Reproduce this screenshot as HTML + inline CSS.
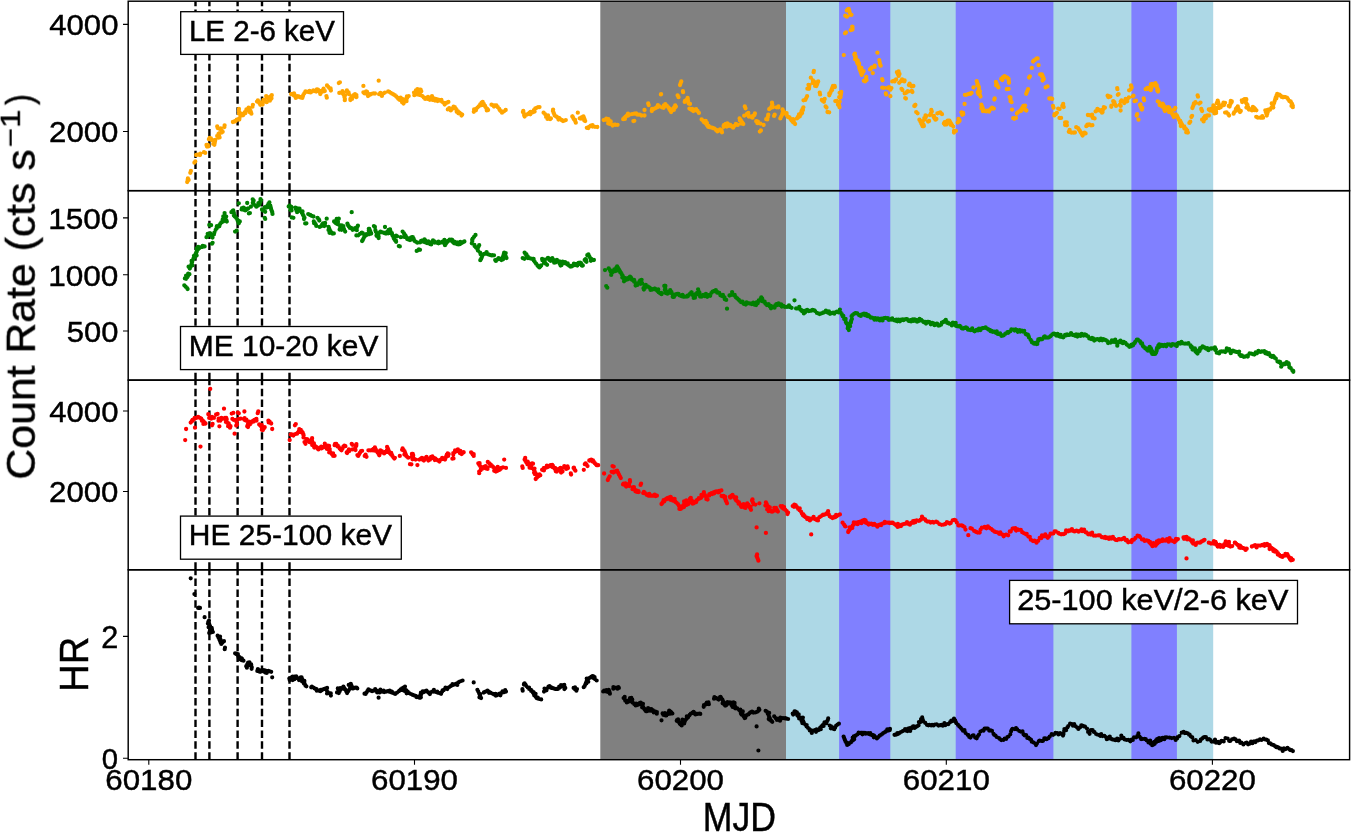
<!DOCTYPE html>
<html><head><meta charset="utf-8"><style>
html,body{margin:0;padding:0;background:#fff;overflow:hidden}
svg{display:block;font-family:"Liberation Sans",sans-serif}
</style></head><body>
<svg width="1351" height="838" viewBox="0 0 1351 838">
<rect width="1351" height="838" fill="#fff"/>
<rect x="600.3" y="1.2" width="185.7" height="758.4" fill="#808080"/>
<rect x="786.0" y="1.2" width="427.2" height="758.4" fill="#add8e6"/>
<rect x="839.1" y="1.2" width="51.2" height="758.4" fill="#8080ff"/>
<rect x="955.7" y="1.2" width="97.7" height="758.4" fill="#8080ff"/>
<rect x="1131.4" y="1.2" width="45.5" height="758.4" fill="#8080ff"/>
<path d="M195.5 190.65V1.2M195.5 380.1V190.65M195.5 569.8V380.1M195.5 759.65V569.8M209.4 190.65V1.2M209.4 380.1V190.65M209.4 569.8V380.1M209.4 759.65V569.8M237.6 190.65V1.2M237.6 380.1V190.65M237.6 569.8V380.1M237.6 759.65V569.8M262.0 190.65V1.2M262.0 380.1V190.65M262.0 569.8V380.1M262.0 759.65V569.8M289.5 190.65V1.2M289.5 380.1V190.65M289.5 569.8V380.1M289.5 759.65V569.8" stroke="#000" stroke-width="2.4" stroke-dasharray="7.45 3.4" fill="none"/>
<path fill="none" stroke="#ffa500" stroke-width="4.3" stroke-linecap="round" d="M187.2 182.1h0M187.6 180.3h0M187.9 178.4h0M190.9 171.0h0M194.4 162.7h0M197.8 154.7h0M200.0 155.1h0M205.2 152.9h0M207.0 146.6h0M207.9 144.8h0M208.9 139.2h0M210.2 139.4h0M211.6 139.6h0M212.6 140.5h0M213.5 141.4h0M215.3 139.9h0M215.0 141.5h0M214.7 143.1h0M214.4 144.8h0M217.2 135.9h0M218.5 134.0h0M219.0 135.7h0M219.6 137.4h0M217.7 128.1h0M219.3 128.7h0M220.9 129.4h0M221.8 130.6h0M222.7 131.8h0M224.6 125.3h0M232.9 122.0h0M234.3 121.5h0M235.7 121.1h0M237.5 119.6h0M239.4 118.3h0M238.8 110.9h0M239.6 112.4h0M240.4 114.0h0M241.2 115.5h0M242.2 114.6h0M243.1 113.7h0M244.9 112.2h0M246.3 110.6h0M247.7 109.0h0M248.6 107.7h0M249.6 109.3h0M250.5 110.9h0M251.0 112.3h0M251.4 113.7h0M252.9 104.8h0M257.9 100.3h0M258.7 101.8h0M259.5 103.3h0M260.3 104.8h0M261.4 104.1h0M262.5 103.5h0M263.0 101.6h0M263.4 99.8h0M264.4 100.7h0M265.3 101.6h0M266.2 96.1h0M267.2 97.0h0M268.1 97.9h0M269.0 99.3h0M269.9 100.7h0M271.8 95.2h0M271.3 97.0h0M270.9 98.9h0M291.2 94.2h0M292.6 93.8h0M294.0 93.3h0M294.6 94.9h0M295.2 96.4h0M295.8 97.9h0M296.8 97.0h0M297.7 96.1h0M299.5 97.0h0M300.9 97.5h0M302.3 97.9h0M302.8 96.5h0M303.2 95.2h0M304.3 93.3h0M305.5 91.5h0M307.2 91.8h0M308.9 92.1h0M310.6 92.4h0M312.0 91.5h0M313.4 90.5h0M314.8 91.0h0M316.2 91.5h0M317.1 90.5h0M318.0 89.6h0M319.0 91.0h0M319.9 92.4h0M321.3 91.9h0M322.7 91.5h0M323.1 90.1h0M323.6 88.7h0M326.4 96.1h0M328.2 86.8h0M329.1 87.8h0M330.1 88.7h0M338.8 83.1h0M339.3 92.9h0M340.7 92.7h0M342.1 92.4h0M343.0 93.8h0M343.9 95.2h0M344.4 97.0h0M344.9 98.9h0M346.7 91.5h0M348.6 92.4h0M350.4 98.9h0M351.3 97.5h0M352.3 96.1h0M353.7 95.2h0M355.0 94.2h0M355.5 95.6h0M356.0 97.0h0M363.4 85.9h0M364.3 93.3h0M365.2 92.4h0M366.2 91.5h0M366.8 93.0h0M367.4 94.5h0M368.0 96.1h0M368.9 95.2h0M369.9 94.2h0M371.7 93.8h0M373.6 93.3h0M378.7 80.7h0M379.1 94.2h0M380.5 94.2h0M381.9 94.2h0M383.7 93.3h0M389.3 91.8h0M390.7 92.8h0M392.1 93.7h0M393.4 94.4h0M394.8 95.2h0M396.2 96.5h0M397.6 97.9h0M398.5 98.9h0M399.5 99.8h0M400.8 99.3h0M402.2 98.9h0M402.7 100.4h0M403.1 101.9h0M403.5 103.5h0M404.3 101.9h0M405.1 100.4h0M405.9 98.9h0M407.3 97.5h0M408.7 96.1h0M414.3 95.2h0M414.9 93.6h0M415.5 92.1h0M416.1 90.5h0M417.5 91.0h0M418.9 91.5h0M188.6 180.0h0M190.3 172.8h0M195.3 161.4h0M196.2 155.0h0M200.3 153.7h0M204.0 152.2h0M208.3 146.4h0M206.5 144.9h0M209.7 137.8h0M210.9 138.3h0M210.3 138.6h0M214.1 143.1h0M213.3 143.9h0M219.5 133.1h0M218.5 137.7h0M217.2 126.4h0M220.7 128.3h0M221.7 132.5h0M224.4 127.1h0M234.4 121.7h0M235.3 121.1h0M236.8 119.6h0M239.3 119.6h0M239.0 109.0h0M238.9 113.6h0M240.5 115.7h0M243.3 115.0h0M242.9 115.3h0M245.3 113.2h0M246.4 109.4h0M249.5 108.6h0M249.5 112.1h0M252.5 106.7h0M257.0 101.6h0M259.5 102.9h0M260.6 104.4h0M262.6 104.6h0M261.4 102.5h0M264.6 99.6h0M266.7 102.2h0M268.6 97.9h0M269.5 99.1h0M269.3 99.7h0M270.9 96.2h0M271.5 98.3h0M270.1 100.3h0M291.1 94.1h0M293.9 95.4h0M295.5 96.6h0M299.8 96.8h0M301.5 96.8h0M305.2 92.1h0M309.6 90.8h0M316.9 89.3h0M317.4 90.3h0M320.3 94.0h0M321.3 90.9h0M321.0 91.2h0M324.8 91.0h0M323.5 90.0h0M326.8 97.7h0M327.0 85.4h0M330.6 88.4h0M330.9 90.5h0M339.9 82.3h0M342.5 91.2h0M342.9 92.3h0M345.1 95.3h0M344.8 100.2h0M346.9 90.4h0M348.9 94.1h0M350.4 100.0h0M352.0 98.9h0M353.2 95.5h0M352.9 96.2h0M356.4 95.1h0M356.5 97.0h0M355.5 95.7h0M363.4 92.3h0M367.1 91.9h0M365.7 93.2h0M369.2 95.0h0M370.4 94.5h0M375.0 93.5h0M380.4 93.0h0M381.9 95.9h0M384.9 92.6h0M388.2 91.5h0M397.5 97.7h0M400.1 98.1h0M400.6 97.6h0M401.0 99.4h0M402.1 102.3h0M406.5 101.2h0M406.5 100.1h0M406.9 96.5h0M414.0 92.6h0M417.8 89.6h0M418.5 91.2h0M418.9 89.7h0M415.9 90.5h0M418.2 90.1h0M420.6 89.6h0M419.9 91.1h0M419.3 92.7h0M418.7 94.2h0M420.6 95.2h0M422.4 96.1h0M423.8 97.5h0M425.2 98.9h0M426.6 97.9h0M428.0 97.0h0M428.9 98.4h0M429.8 99.8h0M431.2 98.9h0M432.6 97.9h0M434.0 98.4h0M435.4 98.9h0M437.2 99.3h0M439.1 99.8h0M440.4 100.7h0M441.8 101.6h0M443.2 102.6h0M444.6 103.5h0M446.0 103.0h0M447.4 102.6h0M449.2 108.1h0M450.6 108.6h0M452.0 109.0h0M453.4 108.1h0M454.8 107.2h0M455.7 108.6h0M456.6 110.0h0M458.0 111.4h0M459.4 112.7h0M460.8 113.7h0M462.2 114.6h0M473.8 111.8h0M475.0 110.4h0M476.1 109.0h0M477.5 107.6h0M478.8 106.3h0M480.2 104.4h0M481.6 102.6h0M483.0 103.9h0M484.4 105.3h0M485.3 106.7h0M486.2 108.1h0M487.2 109.0h0M488.1 110.0h0M492.7 105.3h0M494.6 105.3h0M496.4 105.3h0M497.8 107.2h0M499.2 109.0h0M500.6 110.9h0M502.0 112.7h0M503.8 111.4h0M505.7 110.0h0M523.3 110.9h0M523.7 113.2h0M524.2 115.5h0M525.6 115.1h0M527.0 114.6h0M528.3 113.7h0M529.7 112.7h0M531.1 112.3h0M532.5 111.8h0M533.9 110.1h0M535.3 108.5h0M536.7 107.8h0M538.1 107.2h0M543.6 112.7h0M545.0 114.1h0M546.4 115.5h0M547.6 116.7h0M548.9 118.0h0M550.1 119.2h0M552.9 110.9h0M553.5 112.4h0M554.1 114.0h0M554.7 115.5h0M556.1 116.4h0M557.5 117.4h0M558.9 118.3h0M560.3 119.2h0M561.7 120.1h0M563.0 121.1h0M564.4 120.6h0M565.8 120.1h0M572.3 116.4h0M573.2 118.0h0M574.1 119.5h0M575.1 121.1h0M577.8 112.7h0M579.7 118.3h0M581.5 117.4h0M583.4 116.4h0M584.0 118.0h0M584.6 119.5h0M585.2 121.1h0M588.0 127.5h0M589.4 126.6h0M590.8 125.7h0M592.6 126.6h0M595.0 126.8h0M597.3 127.0h0M603.7 120.1h0M606.1 119.7h0M608.4 119.2h0M608.8 121.5h0M609.3 123.8h0M611.6 124.3h0M613.9 124.8h0M615.8 124.8h0M617.6 124.8h0M623.2 119.2h0M624.4 118.0h0M625.6 116.7h0M626.9 115.5h0M628.3 115.1h0M629.7 114.6h0M632.0 114.1h0M634.3 113.7h0M633.4 121.1h0M637.1 114.6h0M638.4 114.6h0M639.8 114.6h0M644.5 110.0h0M644.5 115.5h0M648.2 103.5h0M651.9 110.0h0M653.7 109.0h0M655.6 108.1h0M657.4 107.2h0M659.3 106.3h0M661.1 94.2h0M663.9 105.3h0M416.9 91.5h0M417.4 89.1h0M421.3 91.3h0M420.1 90.1h0M417.0 94.4h0M419.1 94.8h0M428.3 98.0h0M427.6 98.9h0M432.6 99.9h0M432.0 96.2h0M433.7 99.6h0M435.0 100.5h0M436.2 100.4h0M437.6 101.1h0M441.4 99.9h0M440.9 100.9h0M444.7 104.6h0M448.4 101.9h0M447.8 109.4h0M450.8 110.4h0M453.6 106.7h0M456.7 111.0h0M456.7 111.8h0M458.4 113.3h0M461.5 115.5h0M475.2 110.6h0M474.1 109.5h0M475.9 110.3h0M482.7 101.9h0M481.4 105.2h0M483.8 104.0h0M484.9 105.6h0M486.8 110.4h0M491.5 104.7h0M494.0 106.5h0M499.7 109.9h0M522.9 112.0h0M524.6 116.6h0M530.3 114.3h0M532.8 112.3h0M530.5 111.9h0M534.6 111.6h0M539.5 107.1h0M546.1 116.9h0M548.0 115.3h0M547.5 118.9h0M550.9 118.4h0M553.1 109.6h0M556.4 116.7h0M558.5 119.6h0M559.3 118.2h0M561.5 120.0h0M572.5 116.4h0M575.1 120.0h0M575.8 122.7h0M581.0 118.7h0M583.6 116.9h0M584.3 120.5h0M584.3 119.7h0M586.8 127.8h0M588.4 128.0h0M592.5 125.1h0M606.3 118.7h0M610.7 121.5h0M608.2 123.4h0M612.6 125.5h0M614.9 124.6h0M624.9 118.9h0M628.0 115.7h0M627.2 115.7h0M628.0 113.7h0M636.2 113.6h0M634.3 120.8h0M636.1 113.3h0M641.4 115.5h0M648.7 105.1h0M651.8 111.0h0M652.1 109.0h0M656.9 107.1h0M657.9 105.2h0M665.3 104.2h0M660.9 94.4h0M661.9 107.3h0M663.7 105.9h0M665.6 104.6h0M666.9 105.9h0M668.3 107.3h0M669.3 108.9h0M670.2 110.4h0M671.1 112.0h0M672.0 110.6h0M673.0 109.2h0M674.1 107.3h0M675.2 105.5h0M677.6 95.3h0M678.5 97.2h0M680.0 85.1h0M680.6 83.3h0M681.3 81.4h0M683.1 92.2h0M685.0 100.9h0M686.4 99.9h0M687.8 99.0h0M688.2 101.3h0M688.7 103.6h0M690.5 109.2h0M691.9 110.1h0M693.3 111.0h0M694.7 110.1h0M696.1 109.2h0M697.5 111.0h0M698.9 112.9h0M701.6 119.4h0M703.0 120.7h0M704.4 122.1h0M705.3 123.1h0M706.3 124.0h0M707.2 125.4h0M708.1 126.8h0M709.5 127.0h0M710.9 127.3h0M712.7 128.0h0M714.6 128.6h0M716.0 130.0h0M717.4 131.4h0M718.8 130.5h0M720.1 129.5h0M721.1 130.9h0M722.0 132.3h0M723.8 126.8h0M724.8 125.4h0M725.7 124.0h0M727.1 124.9h0M728.5 125.8h0M729.9 125.8h0M731.2 125.8h0M732.2 126.8h0M733.1 127.7h0M734.5 125.8h0M735.9 124.0h0M737.7 124.9h0M739.6 118.4h0M740.5 119.8h0M741.4 121.2h0M742.3 122.6h0M743.3 124.0h0M744.2 115.7h0M745.5 108.3h0M747.0 113.8h0M747.9 115.2h0M748.8 116.6h0M750.2 116.6h0M751.6 116.6h0M753.0 115.8h0M754.4 115.1h0M756.2 121.2h0M757.6 122.1h0M759.0 123.1h0M760.9 130.5h0M763.6 124.9h0M767.3 119.4h0M767.8 117.0h0M768.3 114.7h0M769.2 109.2h0M772.0 102.7h0M772.4 105.0h0M772.9 107.3h0M774.7 114.7h0M776.6 107.3h0M778.4 107.3h0M780.3 118.4h0M781.2 116.6h0M782.1 114.7h0M782.6 112.9h0M783.1 111.0h0M784.4 112.4h0M785.8 113.8h0M786.8 115.2h0M787.7 116.6h0M789.5 117.5h0M790.5 118.9h0M791.4 120.3h0M792.3 121.2h0M793.2 122.1h0M794.2 123.1h0M795.1 124.0h0M796.9 118.4h0M797.9 117.0h0M798.8 115.7h0M800.6 114.7h0M801.1 112.9h0M801.6 111.0h0M802.5 109.2h0M803.4 107.3h0M805.3 99.9h0M806.2 98.1h0M807.1 96.2h0M809.0 88.8h0M809.2 87.0h0M809.5 85.1h0M810.8 77.7h0M813.6 72.2h0M813.6 81.4h0M814.5 83.0h0M815.4 84.5h0M816.4 86.0h0M817.0 84.5h0M817.6 83.0h0M818.2 81.4h0M820.1 94.4h0M822.8 100.9h0M823.8 99.9h0M824.7 99.0h0M825.6 106.4h0M827.5 112.0h0M829.3 95.3h0M829.9 93.8h0M830.6 92.2h0M831.2 90.7h0M831.8 89.1h0M832.4 87.6h0M833.0 86.0h0M834.9 87.0h0M836.7 100.9h0M837.6 101.8h0M838.6 102.7h0M839.0 105.0h0M839.5 107.3h0M840.4 97.2h0M840.7 95.4h0M841.0 93.7h0M841.3 92.0h0M843.8 55.1h0M845.0 33.3h0M846.0 32.4h0M846.9 16.7h0M847.8 9.3h0M849.1 10.2h0M849.7 12.5h0M850.2 14.8h0M852.5 26.8h0M852.5 28.2h0M852.5 29.6h0M854.3 54.6h0M854.9 56.1h0M855.5 57.7h0M856.2 59.2h0M856.6 60.8h0M857.1 62.3h0M857.6 63.8h0M858.9 64.8h0M859.2 66.5h0M859.5 68.2h0M859.9 69.9h0M860.5 71.6h0M861.1 73.3h0M861.7 74.9h0M862.6 73.1h0M863.6 71.2h0M865.0 81.4h0M865.5 79.9h0M865.9 78.3h0M866.3 76.8h0M870.0 69.4h0M871.0 68.5h0M871.9 67.5h0M872.8 73.1h0M874.7 65.7h0M877.4 52.7h0M879.3 60.1h0M879.7 62.5h0M880.2 64.8h0M882.1 79.2h0M883.9 87.9h0M885.8 93.4h0M887.6 87.9h0M890.4 96.2h0M890.4 89.7h0M892.2 81.4h0M893.6 81.0h0M895.0 80.5h0M896.9 72.2h0M897.8 74.0h0M898.7 75.9h0M900.6 81.4h0M902.4 80.5h0M901.5 88.8h0M904.3 81.4h0M905.2 98.1h0M908.0 91.6h0M908.9 85.1h0M663.6 107.8h0M666.8 105.8h0M669.7 108.6h0M670.9 109.5h0M673.8 109.9h0M675.1 107.5h0M675.9 106.6h0M682.9 91.2h0M684.7 101.9h0M687.6 97.9h0M690.0 103.9h0M689.4 108.6h0M692.1 108.9h0M693.3 109.5h0M696.0 110.3h0M705.7 120.9h0M704.1 122.3h0M706.9 122.9h0M708.6 126.0h0M717.8 130.4h0M720.3 130.6h0M721.6 130.4h0M724.1 125.0h0M723.6 126.0h0M727.3 123.4h0M726.8 126.5h0M727.9 124.0h0M730.2 124.9h0M731.7 126.5h0M740.9 120.8h0M739.9 120.4h0M741.1 123.6h0M744.8 106.4h0M748.3 112.8h0M749.2 116.1h0M752.5 117.7h0M754.1 115.3h0M754.9 113.4h0M757.9 121.7h0M757.4 123.2h0M760.4 123.6h0M759.8 131.6h0M766.2 119.2h0M770.2 108.3h0M771.6 106.4h0M771.9 105.8h0M774.1 115.9h0M778.4 106.3h0M782.5 109.5h0M786.6 113.1h0M786.5 114.2h0M788.0 117.2h0M793.1 119.2h0M792.9 122.0h0M794.0 122.8h0M793.7 121.5h0M798.0 117.5h0M799.0 114.3h0M799.7 116.4h0M802.1 113.1h0M803.0 110.0h0M803.5 100.3h0M807.4 88.7h0M808.5 84.8h0M813.9 70.8h0M812.9 80.3h0M812.7 82.9h0M815.1 85.9h0M817.3 83.4h0M815.9 82.4h0M819.7 92.6h0M823.9 101.8h0M821.8 100.0h0M823.7 100.7h0M826.5 107.5h0M829.2 112.3h0M829.3 93.4h0M832.1 90.0h0M834.6 85.8h0M835.3 101.1h0M838.3 103.5h0M839.7 101.6h0M838.0 104.7h0M839.2 106.3h0M839.2 97.2h0M840.5 97.3h0M839.6 92.8h0M845.3 33.2h0M845.3 15.7h0M846.8 10.4h0M848.7 8.9h0M851.5 14.8h0M852.2 26.6h0M850.7 30.2h0M854.9 53.6h0M854.6 54.3h0M855.7 56.6h0M855.1 59.2h0M857.7 60.5h0M859.1 63.3h0M861.4 67.8h0M859.2 68.1h0M861.4 72.2h0M862.7 72.8h0M863.8 80.8h0M866.6 80.0h0M870.9 69.1h0M874.6 66.9h0M880.7 65.7h0M882.5 80.3h0M882.2 87.7h0M886.1 94.6h0M889.0 87.2h0M891.4 88.1h0M894.6 81.4h0M896.1 79.4h0M898.6 71.4h0M899.5 74.0h0M899.2 82.8h0M902.1 79.3h0M902.4 90.0h0M904.6 80.4h0M905.9 92.9h0M906.9 92.0h0M907.8 91.1h0M909.6 83.7h0M910.6 85.1h0M911.5 86.4h0M912.4 92.0h0M905.9 98.5h0M914.3 105.9h0M915.2 104.9h0M917.6 113.3h0M919.4 119.7h0M920.4 121.6h0M921.3 123.4h0M921.9 124.8h0M922.6 126.2h0M924.4 119.7h0M925.4 117.9h0M926.3 116.0h0M928.1 121.6h0M930.0 115.1h0M930.9 113.3h0M931.8 111.4h0M933.7 117.0h0M934.6 118.4h0M935.5 119.7h0M937.4 113.3h0M938.8 112.8h0M940.2 112.3h0M941.1 113.3h0M942.0 114.2h0M943.9 123.4h0M945.2 123.9h0M946.6 124.4h0M948.0 122.5h0M949.4 120.7h0M950.3 122.2h0M951.3 123.8h0M952.2 125.3h0M954.0 130.9h0M955.9 130.9h0M957.7 122.5h0M958.7 121.6h0M959.6 120.7h0M961.4 112.3h0M962.4 113.3h0M963.3 114.2h0M964.6 104.0h0M966.1 94.8h0M967.5 94.3h0M968.8 93.8h0M970.2 93.4h0M971.6 92.9h0M973.5 87.4h0M977.2 82.7h0M977.8 84.3h0M978.4 85.8h0M979.0 87.4h0M979.0 89.7h0M979.0 92.0h0M979.5 93.5h0M980.0 95.1h0M980.5 96.6h0M981.8 105.9h0M982.4 107.4h0M983.0 109.0h0M983.6 110.5h0M985.0 111.0h0M986.4 111.4h0M987.8 111.0h0M989.2 110.5h0M990.6 109.1h0M992.0 107.7h0M993.8 108.6h0M994.7 98.5h0M996.6 83.7h0M997.5 85.5h0M998.4 87.4h0M1001.2 79.0h0M1002.2 78.1h0M1003.1 77.2h0M1004.9 76.3h0M1006.8 77.6h0M1008.6 79.0h0M1008.8 80.9h0M1009.0 82.7h0M1006.8 89.2h0M1010.5 97.5h0M1010.5 99.4h0M1010.5 101.2h0M1012.0 109.6h0M1014.2 118.8h0M1016.0 117.9h0M1017.9 112.3h0M1019.3 111.4h0M1020.7 110.5h0M1021.6 109.0h0M1022.5 107.4h0M1023.4 105.9h0M1024.4 107.9h0M1025.3 109.9h0M1026.2 93.8h0M1026.8 92.3h0M1027.4 90.8h0M1028.1 89.2h0M1029.9 76.3h0M1031.8 67.9h0M1033.1 61.5h0M1034.7 60.1h0M1036.4 58.7h0M1038.6 65.2h0M1040.1 74.4h0M1041.9 74.4h0M1042.6 76.0h0M1043.2 77.5h0M1043.8 79.0h0M1045.6 87.4h0M1047.5 86.4h0M1049.3 98.5h0M1051.2 98.5h0M1053.0 105.9h0M1054.5 114.2h0M1055.8 114.2h0M1058.2 108.6h0M1059.5 117.9h0M1062.3 105.9h0M1063.2 104.0h0M1065.1 122.5h0M1066.0 123.9h0M1066.9 125.3h0M1068.8 131.8h0M1070.2 132.2h0M1071.5 132.7h0M1073.4 132.7h0M1076.2 127.2h0M1078.0 128.1h0M1078.9 129.5h0M1079.9 130.9h0M1080.8 132.4h0M1081.7 133.9h0M1082.6 135.5h0M1083.6 134.1h0M1084.5 132.7h0M1086.3 126.2h0M1087.7 125.3h0M1089.1 124.4h0M1091.0 125.3h0M1089.1 115.1h0M1090.5 115.1h0M1091.9 115.1h0M1092.4 116.5h0M1092.8 117.9h0M1095.6 111.4h0M1097.0 110.5h0M1098.4 109.6h0M1099.8 110.5h0M1101.2 111.4h0M1102.1 110.5h0M1103.0 109.6h0M1103.9 108.6h0M1104.9 107.7h0M1107.6 95.7h0M1109.0 96.2h0M1110.4 96.6h0M1111.3 106.8h0M1113.2 101.2h0M1114.1 102.8h0M1115.0 104.3h0M1116.0 105.9h0M1117.4 89.2h0M1117.8 94.8h0M1119.7 104.9h0M1120.6 110.5h0M1121.5 100.3h0M1122.9 101.7h0M1124.3 103.1h0M1125.2 101.7h0M1126.1 100.3h0M1127.5 98.9h0M1128.9 97.5h0M1130.8 89.2h0M1131.7 87.4h0M1133.5 95.7h0M1134.5 101.2h0M1137.2 114.2h0M1138.5 119.7h0M1140.0 104.9h0M1140.6 106.5h0M1141.2 108.0h0M1141.9 109.6h0M1143.7 98.5h0M1145.6 89.2h0M1147.4 89.2h0M1149.3 89.2h0M1150.2 88.3h0M1151.1 87.4h0M1152.0 86.0h0M1153.0 84.6h0M904.7 93.4h0M908.5 91.3h0M913.4 86.0h0M911.8 90.9h0M915.4 105.0h0M914.7 106.0h0M916.2 112.1h0M921.4 121.5h0M922.5 121.9h0M923.6 124.8h0M923.9 126.1h0M924.3 118.1h0M925.5 115.4h0M929.1 121.0h0M931.3 109.9h0M933.9 115.9h0M936.4 118.9h0M936.3 118.9h0M937.5 113.3h0M944.7 122.1h0M944.9 124.7h0M947.0 121.4h0M947.7 120.6h0M950.9 124.9h0M953.2 126.6h0M954.0 132.5h0M958.9 121.5h0M959.3 119.8h0M958.5 119.0h0M962.4 113.0h0M962.2 114.8h0M963.1 112.8h0M964.9 94.8h0M970.1 93.4h0M970.3 93.9h0M976.7 81.1h0M977.3 85.4h0M979.9 91.4h0M977.7 92.2h0M978.4 94.0h0M981.3 104.7h0M981.4 108.2h0M982.8 111.1h0M983.1 110.6h0M987.0 110.6h0M989.1 111.5h0M992.1 108.6h0M994.3 99.5h0M995.9 82.0h0M996.0 85.3h0M1002.3 80.1h0M1002.8 79.0h0M1004.5 76.1h0M1007.3 77.6h0M1009.0 82.8h0M1008.6 88.9h0M1009.6 97.1h0M1011.6 102.2h0M1013.2 118.2h0M1016.9 113.5h0M1021.1 110.8h0M1023.7 107.8h0M1025.1 105.6h0M1026.4 110.5h0M1029.1 77.5h0M1034.0 60.3h0M1037.6 58.4h0M1041.7 75.9h0M1042.6 80.5h0M1052.2 98.9h0M1053.5 107.7h0M1054.3 115.4h0M1056.9 112.8h0M1059.6 109.1h0M1061.1 117.9h0M1063.7 107.0h0M1066.6 122.6h0M1066.8 122.3h0M1065.1 125.0h0M1069.6 130.0h0M1074.9 132.5h0M1082.6 134.5h0M1085.6 133.4h0M1087.4 124.6h0M1092.4 125.2h0M1087.9 115.0h0M1091.8 115.0h0M1090.8 115.6h0M1092.1 114.6h0M1094.6 118.4h0M1097.0 110.3h0M1097.4 109.0h0M1101.5 110.9h0M1102.0 112.7h0M1102.6 112.0h0M1101.2 110.2h0M1103.8 107.2h0M1108.3 97.1h0M1108.7 97.1h0M1111.4 105.7h0M1114.4 102.1h0M1117.2 88.1h0M1118.6 94.1h0M1120.7 105.9h0M1120.7 101.6h0M1127.2 101.3h0M1125.6 99.0h0M1129.1 90.3h0M1131.0 85.5h0M1132.8 96.4h0M1136.0 100.7h0M1136.7 115.6h0M1140.6 104.5h0M1142.3 108.0h0M1144.1 100.3h0M1147.3 87.9h0M1150.1 87.8h0M1150.7 86.6h0M1150.1 87.2h0M1151.3 85.3h0M1154.7 84.8h0M1150.7 90.2h0M1151.5 87.9h0M1152.2 85.7h0M1153.3 84.8h0M1154.5 83.9h0M1155.6 85.6h0M1156.7 87.2h0M1157.4 88.5h0M1158.2 89.9h0M1158.9 102.1h0M1160.0 103.6h0M1161.2 105.0h0M1162.6 103.6h0M1163.4 105.0h0M1164.1 106.5h0M1164.5 108.8h0M1164.9 111.0h0M1166.0 109.1h0M1167.1 107.3h0M1169.3 108.0h0M1170.1 109.9h0M1170.8 111.7h0M1171.6 112.9h0M1172.3 114.0h0M1173.1 115.5h0M1173.8 117.0h0M1175.3 108.0h0M1176.8 115.5h0M1177.5 117.0h0M1178.3 118.4h0M1179.0 119.9h0M1180.1 121.4h0M1181.2 122.9h0M1182.0 124.4h0M1182.7 125.9h0M1183.8 127.0h0M1185.0 128.1h0M1186.1 129.2h0M1187.2 130.3h0M1187.9 132.6h0M1189.4 122.9h0M1191.4 117.0h0M1192.4 108.0h0M1193.1 106.2h0M1193.9 104.3h0M1194.6 103.2h0M1195.4 102.1h0M1197.6 95.4h0M1199.1 103.6h0M1201.3 108.8h0M1202.1 111.0h0M1203.6 121.4h0M1204.1 119.7h0M1204.6 117.9h0M1205.0 116.2h0M1207.3 115.5h0M1208.8 109.5h0M1211.0 108.8h0M1211.7 109.9h0M1212.5 111.0h0M1213.2 108.8h0M1214.0 106.5h0M1215.5 113.2h0M1215.7 111.5h0M1216.0 109.8h0M1216.2 108.0h0M1217.7 100.6h0M1218.2 102.3h0M1218.7 104.1h0M1219.2 105.8h0M1220.7 107.3h0M1221.8 105.8h0M1222.9 104.3h0M1224.0 103.6h0M1225.1 102.8h0M1226.6 112.5h0M1228.1 114.0h0M1229.6 106.5h0M1230.3 104.3h0M1231.1 102.8h0M1231.8 101.3h0M1234.1 112.5h0M1235.5 111.0h0M1236.3 109.5h0M1237.0 108.0h0M1237.8 106.5h0M1238.5 108.8h0M1239.3 111.0h0M1240.8 111.0h0M1242.2 100.6h0M1243.4 99.8h0M1244.5 99.1h0M1245.2 101.0h0M1246.0 102.8h0M1246.7 103.9h0M1247.5 105.0h0M1248.2 107.3h0M1248.9 109.5h0M1251.2 109.5h0M1252.7 108.8h0M1254.1 108.0h0M1255.3 109.1h0M1256.4 110.3h0M1257.9 117.7h0M1260.1 117.7h0M1261.6 117.7h0M1263.1 117.7h0M1265.3 110.3h0M1265.8 112.0h0M1266.3 113.7h0M1266.8 115.5h0M1267.3 113.7h0M1267.8 112.0h0M1268.3 110.3h0M1269.4 109.5h0M1270.5 108.8h0M1271.6 107.3h0M1272.7 105.8h0M1273.5 104.3h0M1274.2 102.8h0M1274.7 101.1h0M1275.2 99.3h0M1275.7 97.6h0M1276.5 95.7h0M1277.2 93.9h0M1279.4 94.6h0M1280.6 95.7h0M1281.7 96.9h0M1283.9 96.9h0M1285.4 97.2h0M1286.9 97.6h0M1288.0 99.1h0M1289.1 100.6h0M1290.6 101.3h0M1291.3 102.8h0M1292.1 104.3h0M1292.8 105.8h0M1150.8 84.4h0M1152.0 83.8h0M1155.4 83.1h0M1156.8 85.3h0M1157.3 90.4h0M1158.0 91.6h0M1157.7 101.3h0M1159.6 105.0h0M1162.5 106.2h0M1162.2 106.7h0M1164.4 110.1h0M1167.1 109.5h0M1168.3 107.1h0M1171.5 110.4h0M1169.0 112.0h0M1174.3 109.6h0M1175.8 114.5h0M1176.9 115.6h0M1180.3 121.0h0M1180.0 122.8h0M1180.8 126.1h0M1184.7 128.6h0M1184.2 126.5h0M1184.4 128.6h0M1187.2 131.4h0M1186.2 132.3h0M1190.3 121.7h0M1192.1 115.8h0M1194.9 103.5h0M1193.9 103.4h0M1198.0 96.7h0M1200.5 102.6h0M1201.4 109.6h0M1202.1 119.7h0M1205.9 118.3h0M1203.8 117.8h0M1208.9 115.5h0M1210.0 110.5h0M1213.0 109.9h0M1213.1 107.6h0M1213.4 105.5h0M1214.4 113.4h0M1216.1 112.9h0M1216.1 111.7h0M1216.8 103.0h0M1220.2 106.8h0M1219.1 108.0h0M1223.5 102.7h0M1224.0 105.0h0M1225.1 112.6h0M1229.1 115.5h0M1228.7 105.9h0M1230.6 102.5h0M1231.7 102.0h0M1230.8 100.8h0M1233.6 113.7h0M1236.7 107.9h0M1235.9 109.0h0M1237.2 107.9h0M1240.0 112.1h0M1239.5 110.5h0M1242.2 102.0h0M1241.8 100.3h0M1246.3 99.2h0M1246.3 99.8h0M1246.4 107.6h0M1250.5 109.3h0M1252.0 110.4h0M1252.9 106.8h0M1254.5 110.2h0M1256.2 116.8h0M1262.3 116.2h0M1267.6 110.0h0M1270.0 109.7h0M1272.6 106.5h0M1273.3 107.6h0M1271.7 103.4h0M1276.3 98.6h0M1276.4 97.7h0M1278.4 95.0h0M1281.7 96.7h0M1283.0 97.3h0M1285.3 97.2h0M1289.3 101.1h0M1292.1 103.9h0M1291.5 105.9h0M1292.8 107.2h0"/>
<path fill="none" stroke="#008000" stroke-width="4.3" stroke-linecap="round" d="M184.3 285.3h0M185.6 286.7h0M187.0 288.1h0M186.1 278.8h0M187.0 277.4h0M188.0 276.0h0M189.4 274.2h0M189.8 268.6h0M190.5 266.8h0M191.3 264.9h0M191.7 263.4h0M192.1 261.9h0M192.6 260.3h0M193.5 258.5h0M194.4 256.6h0M195.1 255.2h0M195.7 253.8h0M196.3 252.5h0M196.8 251.1h0M198.1 249.2h0M199.1 248.3h0M200.0 247.4h0M202.3 246.9h0M204.6 246.4h0M206.5 237.2h0M207.4 236.3h0M208.3 235.3h0M209.2 234.4h0M210.2 233.5h0M211.1 234.9h0M212.0 236.3h0M212.9 235.3h0M213.9 234.4h0M211.1 225.2h0M212.0 243.7h0M215.7 229.8h0M216.6 228.4h0M217.6 227.0h0M218.5 226.1h0M219.4 225.2h0M220.3 223.8h0M221.3 222.4h0M223.1 221.5h0M224.0 219.6h0M225.0 217.8h0M224.8 215.4h0M224.6 213.1h0M226.8 221.5h0M231.4 212.2h0M232.4 211.3h0M233.3 210.4h0M233.8 212.7h0M234.2 215.0h0M235.1 216.4h0M236.1 217.8h0M237.0 219.1h0M237.9 220.5h0M238.4 221.9h0M238.8 223.3h0M239.8 221.5h0M235.1 231.6h0M238.8 203.3h0M241.6 209.4h0M242.5 208.5h0M243.5 207.6h0M244.4 209.0h0M245.3 210.4h0M246.7 209.4h0M248.1 208.5h0M247.2 203.0h0M249.9 213.1h0M250.9 206.7h0M252.7 199.3h0M253.2 201.6h0M253.6 203.9h0M255.0 205.3h0M256.4 206.7h0M257.8 205.7h0M259.2 204.8h0M259.8 203.3h0M260.4 201.7h0M261.0 200.2h0M262.0 209.4h0M263.8 210.4h0M264.7 217.8h0M266.6 207.6h0M267.5 205.7h0M268.4 203.9h0M269.4 204.8h0M270.3 205.7h0M270.8 207.6h0M271.2 209.4h0M271.7 210.8h0M272.2 212.2h0M289.7 205.7h0M290.3 207.3h0M291.0 208.8h0M291.6 210.4h0M293.4 217.8h0M295.3 207.6h0M295.9 209.1h0M296.5 210.7h0M297.1 212.2h0M298.1 210.8h0M299.0 209.4h0M299.9 210.4h0M300.8 211.3h0M301.8 212.7h0M302.7 214.1h0M303.6 215.9h0M304.5 217.8h0M306.4 223.3h0M308.2 214.1h0M310.1 215.0h0M311.9 215.9h0M313.8 221.5h0M314.7 222.8h0M315.6 224.2h0M317.5 217.8h0M318.4 219.1h0M319.3 220.5h0M321.2 226.1h0M322.1 224.7h0M323.0 223.3h0M324.0 224.2h0M324.9 225.2h0M326.7 218.7h0M328.6 227.0h0M329.2 228.6h0M329.8 230.1h0M330.4 231.6h0M331.4 232.6h0M332.3 233.5h0M334.1 221.5h0M335.1 222.4h0M336.0 223.3h0M336.9 221.8h0M337.8 220.2h0M338.8 218.7h0M339.7 225.2h0M340.3 226.7h0M340.9 228.2h0M341.5 229.8h0M342.5 227.9h0M343.4 226.1h0M345.2 231.6h0M348.0 225.2h0M348.9 226.5h0M349.9 227.9h0M351.7 212.2h0M352.6 229.8h0M354.0 229.3h0M355.4 228.9h0M356.3 227.9h0M357.3 227.0h0M358.2 235.3h0M360.0 233.9h0M361.9 232.6h0M362.8 240.0h0M363.7 238.1h0M364.7 236.3h0M366.1 235.3h0M367.5 234.4h0M369.3 228.9h0M369.9 230.4h0M370.5 231.9h0M371.2 233.5h0M373.9 226.1h0M375.8 231.6h0M376.7 233.0h0M377.6 234.4h0M378.1 236.3h0M378.6 238.1h0M380.4 231.6h0M381.8 232.1h0M383.2 232.6h0M385.0 227.0h0M386.0 233.5h0M387.3 231.6h0M388.7 229.8h0M389.7 230.7h0M390.6 231.6h0M391.5 233.5h0M392.4 235.3h0M393.4 237.2h0M394.3 239.0h0M395.2 240.4h0M396.1 241.8h0M397.1 236.3h0M399.8 246.4h0M400.8 237.2h0M402.6 231.6h0M404.0 233.5h0M405.4 235.3h0M406.3 237.2h0M407.2 239.0h0M408.6 239.5h0M410.0 240.0h0M411.4 238.6h0M412.8 237.2h0M413.7 239.0h0M414.6 240.9h0M416.0 241.8h0M417.4 242.7h0M418.3 250.1h0M421.1 240.9h0M422.5 241.4h0M423.9 241.8h0M187.6 289.1h0M184.9 278.4h0M186.1 275.6h0M188.2 273.6h0M189.9 267.4h0M188.6 266.7h0M192.3 265.4h0M191.6 260.9h0M194.5 257.7h0M194.0 255.8h0M196.6 255.5h0M196.8 251.6h0M196.7 248.5h0M198.1 246.9h0M202.7 245.9h0M207.7 233.8h0M208.8 234.9h0M212.5 237.6h0M214.4 232.6h0M209.3 225.0h0M212.6 242.8h0M216.7 227.1h0M216.9 226.2h0M219.3 226.3h0M222.6 221.7h0M224.4 220.7h0M222.7 219.4h0M226.2 216.6h0M223.3 216.3h0M226.4 220.4h0M232.7 211.0h0M233.9 215.6h0M234.8 216.6h0M237.8 220.9h0M236.7 230.7h0M242.0 208.2h0M243.3 209.7h0M245.5 208.9h0M248.9 213.4h0M253.6 200.5h0M252.8 202.8h0M257.7 205.8h0M258.4 203.1h0M259.6 202.3h0M260.5 199.2h0M262.8 210.4h0M265.2 211.8h0M265.2 218.9h0M264.9 207.2h0M266.5 207.3h0M269.4 202.4h0M269.6 207.3h0M269.1 207.0h0M272.2 211.9h0M272.5 213.9h0M288.7 206.4h0M289.2 206.8h0M291.3 207.0h0M290.3 209.8h0M291.7 217.4h0M296.3 208.6h0M297.6 208.3h0M297.0 211.2h0M299.5 208.6h0M299.6 209.7h0M302.5 211.4h0M302.9 214.8h0M304.0 219.0h0M305.2 223.4h0M313.4 216.5h0M314.1 223.2h0M316.3 225.9h0M318.8 219.3h0M319.7 226.9h0M325.1 223.0h0M324.2 226.0h0M328.5 230.1h0M330.6 231.5h0M329.5 232.8h0M333.8 233.4h0M335.6 221.8h0M337.3 224.0h0M338.0 221.9h0M336.7 219.0h0M341.8 225.4h0M339.6 229.6h0M339.8 229.1h0M343.9 229.0h0M344.3 229.9h0M347.4 223.6h0M351.1 227.8h0M355.7 229.4h0M356.8 230.2h0M355.0 228.2h0M357.9 225.7h0M356.4 235.4h0M362.7 233.2h0M362.1 241.0h0M364.3 235.2h0M366.3 234.2h0M368.8 230.7h0M368.8 228.8h0M369.5 234.1h0M374.9 226.9h0M375.4 230.2h0M376.7 235.9h0M376.5 235.4h0M378.6 236.4h0M379.8 232.6h0M384.2 233.0h0M388.2 233.3h0M389.9 229.5h0M390.1 229.3h0M391.9 233.2h0M393.9 238.6h0M395.9 240.6h0M396.1 235.7h0M398.8 246.1h0M404.2 236.9h0M409.0 238.5h0M411.1 239.5h0M411.9 237.1h0M411.3 237.3h0M416.7 250.9h0M425.6 241.6h0M420.0 242.4h0M420.0 249.8h0M422.8 240.5h0M424.2 241.5h0M425.6 242.4h0M426.9 241.9h0M428.3 241.5h0M429.3 242.8h0M430.2 244.2h0M431.6 242.4h0M433.0 240.5h0M434.3 241.5h0M435.7 242.4h0M437.1 242.8h0M438.5 243.3h0M439.9 242.8h0M441.3 242.4h0M443.1 241.5h0M444.1 243.3h0M445.0 245.2h0M445.9 243.8h0M446.8 242.4h0M448.2 241.0h0M449.6 239.6h0M451.0 240.5h0M452.4 241.5h0M453.3 242.4h0M454.2 243.3h0M455.6 242.8h0M457.0 242.4h0M458.4 243.3h0M459.8 244.2h0M461.2 243.3h0M462.6 242.4h0M464.4 241.5h0M471.8 243.3h0M472.3 241.0h0M472.7 238.7h0M474.1 236.8h0M475.5 235.0h0M474.6 246.1h0M476.0 247.5h0M477.4 248.9h0M478.3 247.0h0M479.2 245.2h0M480.1 252.6h0M481.1 259.0h0M481.7 257.5h0M482.3 256.0h0M482.9 254.4h0M484.3 253.9h0M485.7 253.5h0M487.1 253.9h0M488.5 254.4h0M489.9 254.9h0M491.2 255.3h0M492.6 255.3h0M494.0 255.3h0M495.9 260.9h0M497.3 259.5h0M498.6 258.1h0M500.0 259.0h0M501.4 260.0h0M502.3 258.1h0M503.3 256.3h0M503.7 254.4h0M504.2 252.6h0M504.8 254.1h0M505.4 255.6h0M506.0 257.2h0M522.7 258.1h0M524.6 252.6h0M525.5 253.9h0M526.4 255.3h0M527.8 256.7h0M529.2 258.1h0M531.0 258.6h0M532.9 259.0h0M533.8 260.4h0M534.7 261.8h0M536.1 263.7h0M537.5 265.5h0M538.4 266.4h0M539.4 267.4h0M540.3 266.4h0M541.2 265.5h0M542.1 259.0h0M543.1 260.0h0M544.0 260.9h0M544.9 262.3h0M545.8 263.7h0M547.7 258.1h0M548.6 259.0h0M549.5 260.0h0M550.9 259.0h0M552.3 258.1h0M552.9 259.7h0M553.5 261.2h0M554.2 262.7h0M555.5 261.4h0M556.9 260.0h0M557.9 260.9h0M558.8 261.8h0M559.7 263.7h0M560.6 265.5h0M562.0 264.1h0M563.4 262.7h0M564.8 263.2h0M566.2 263.7h0M567.6 264.6h0M569.0 265.5h0M570.4 266.0h0M571.7 266.4h0M573.1 265.5h0M574.5 264.6h0M575.9 265.1h0M577.3 265.5h0M578.7 264.1h0M580.1 262.7h0M581.5 264.1h0M582.8 265.5h0M584.7 260.0h0M585.6 260.9h0M586.5 261.8h0M588.4 254.4h0M589.3 256.3h0M590.2 258.1h0M591.2 259.0h0M592.1 260.0h0M593.9 260.0h0M605.0 270.1h0M607.3 287.7h0M608.7 268.3h0M609.7 269.8h0M610.6 271.4h0M611.5 272.9h0M612.9 272.0h0M614.3 271.1h0M615.2 269.5h0M616.2 268.0h0M617.1 266.4h0M618.0 268.0h0M618.9 269.5h0M619.9 271.1h0M620.8 272.6h0M621.7 274.2h0M622.6 275.7h0M623.2 277.2h0M623.9 278.8h0M624.5 280.3h0M625.9 279.9h0M627.3 279.4h0M628.6 278.0h0M630.0 276.6h0M631.4 278.5h0M632.8 280.3h0M634.2 281.7h0M635.6 283.1h0M636.5 284.0h0M637.4 284.9h0M638.4 283.4h0M639.3 281.9h0M640.2 280.3h0M641.1 281.7h0M642.1 283.1h0M643.9 289.6h0M644.5 288.0h0M645.1 286.5h0M645.8 284.9h0M647.6 286.3h0M649.5 287.7h0M650.8 288.6h0M652.2 289.6h0M653.6 289.1h0M655.0 288.6h0M656.2 289.9h0M657.5 291.1h0M658.7 292.3h0M660.1 293.3h0M661.5 294.2h0M664.3 285.9h0M666.1 291.4h0M667.5 291.9h0M668.9 292.3h0M418.9 249.5h0M424.5 239.5h0M425.3 240.4h0M427.2 243.2h0M429.6 242.9h0M431.2 244.4h0M430.3 242.6h0M434.6 242.6h0M438.5 241.6h0M444.4 240.0h0M444.7 242.3h0M445.6 243.9h0M445.8 241.2h0M451.7 239.7h0M452.2 240.0h0M454.2 241.6h0M457.1 244.2h0M458.6 244.3h0M460.3 241.9h0M472.2 239.7h0M474.4 244.9h0M477.9 250.6h0M480.6 254.2h0M480.3 260.2h0M482.0 255.6h0M486.6 252.1h0M492.3 255.1h0M491.5 255.3h0M495.2 260.1h0M500.0 258.9h0M502.9 259.4h0M503.1 256.5h0M503.5 257.5h0M505.7 253.1h0M504.9 254.0h0M506.5 258.1h0M524.4 258.8h0M525.4 253.8h0M526.3 254.1h0M526.9 255.9h0M527.9 258.1h0M533.6 258.9h0M542.4 260.3h0M544.9 259.7h0M542.8 260.3h0M544.1 262.9h0M547.1 264.8h0M548.1 257.9h0M550.6 260.8h0M551.8 260.0h0M553.9 260.2h0M555.4 261.0h0M555.5 262.4h0M555.8 260.5h0M559.4 261.3h0M561.4 265.2h0M562.6 261.7h0M563.2 262.8h0M565.1 262.2h0M567.7 263.5h0M570.3 266.5h0M573.9 263.7h0M574.3 265.0h0M576.5 264.1h0M578.5 263.0h0M581.0 263.1h0M581.8 265.6h0M585.6 259.2h0M586.0 259.7h0M587.3 255.2h0M591.1 259.3h0M590.9 260.8h0M606.2 286.1h0M611.9 271.4h0M611.2 274.9h0M611.7 272.9h0M614.3 269.4h0M615.6 271.0h0M617.6 268.0h0M617.5 270.3h0M620.2 272.3h0M622.3 277.5h0M625.4 278.1h0M624.0 281.3h0M624.9 279.7h0M628.4 279.1h0M630.8 277.3h0M631.9 279.7h0M634.1 279.9h0M634.3 280.6h0M635.6 285.5h0M636.4 283.7h0M639.7 282.8h0M640.2 280.3h0M641.6 279.8h0M640.7 283.8h0M644.9 288.0h0M643.5 288.2h0M644.6 285.4h0M648.6 287.1h0M650.6 289.9h0M654.6 288.6h0M658.2 289.5h0M661.2 293.6h0M661.2 292.9h0M665.4 285.9h0M665.9 290.9h0M669.9 292.4h0M664.9 285.9h0M665.1 287.3h0M665.3 288.7h0M664.8 290.0h0M665.3 292.8h0M666.3 291.6h0M667.4 293.7h0M669.3 292.7h0M670.2 290.1h0M671.4 291.9h0M671.8 293.3h0M672.7 296.8h0M673.6 296.6h0M673.9 296.9h0M675.5 294.5h0M676.2 294.6h0M677.3 293.8h0M678.5 293.8h0M679.7 295.4h0M681.2 296.0h0M682.5 294.9h0M683.3 296.7h0M684.5 296.6h0M686.0 296.7h0M687.5 295.7h0M687.8 296.3h0M688.8 295.1h0M690.0 293.8h0M691.3 292.4h0M691.6 292.3h0M693.1 295.4h0M693.4 295.0h0M693.7 297.9h0M694.9 297.7h0M695.0 295.9h0M695.6 294.1h0M696.3 294.6h0M697.1 292.9h0M698.1 289.3h0M698.8 292.0h0M699.4 292.5h0M699.5 294.7h0M700.1 296.6h0M701.8 296.5h0M703.1 294.8h0M704.7 296.1h0M705.9 293.8h0M707.2 296.8h0M708.2 296.0h0M709.4 294.8h0M710.2 295.8h0M711.5 292.8h0M712.6 291.7h0M714.1 290.8h0M714.8 291.1h0M715.8 290.1h0M717.2 292.7h0M717.7 292.2h0M719.3 292.9h0M720.4 295.3h0M722.1 296.0h0M722.9 295.0h0M724.5 297.5h0M724.8 299.2h0M726.2 299.9h0M727.0 308.7h0M729.5 295.5h0M731.3 294.8h0M732.1 292.1h0M733.6 295.0h0M734.7 294.9h0M735.0 296.1h0M736.0 297.4h0M737.2 298.5h0M738.7 299.7h0M739.6 300.8h0M741.1 302.2h0M742.5 301.6h0M743.7 303.8h0M745.8 304.6h0M746.6 302.4h0M747.9 303.2h0M749.2 303.3h0M750.7 303.7h0M751.6 304.1h0M753.2 302.7h0M754.2 304.6h0M756.1 305.0h0M756.9 302.2h0M757.7 303.3h0M758.8 300.4h0M759.7 300.7h0M760.5 299.2h0M761.3 297.3h0M761.3 299.1h0M762.2 298.6h0M762.3 301.2h0M763.4 301.5h0M764.6 301.6h0M765.5 303.7h0M766.9 305.1h0M768.5 304.2h0M769.9 306.6h0M770.7 306.0h0M771.0 308.3h0M772.6 306.8h0M774.5 307.7h0M775.4 305.1h0M776.4 304.2h0M776.9 305.2h0M778.6 303.4h0M779.4 304.8h0M781.1 304.3h0M781.8 306.6h0M783.2 305.9h0M785.0 306.9h0M786.4 306.8h0M787.8 306.8h0M789.0 305.4h0M790.3 307.2h0M791.6 307.8h0M794.5 300.3h0M796.1 308.4h0M797.4 308.4h0M799.3 306.9h0M800.4 309.7h0M801.1 310.0h0M801.9 311.1h0M803.1 311.0h0M803.9 313.4h0M805.0 312.4h0M806.1 310.5h0M807.2 310.0h0M808.4 311.1h0M809.8 310.8h0M811.3 310.7h0M812.5 309.8h0M814.3 310.5h0M815.1 311.1h0M816.9 312.9h0M818.0 313.3h0M819.6 314.0h0M820.5 313.7h0M822.0 313.2h0M823.5 312.5h0M824.3 312.3h0M825.9 310.7h0M827.7 312.5h0M828.9 311.3h0M830.0 313.8h0M831.2 313.3h0M833.1 312.7h0M834.3 313.7h0M835.4 312.3h0M836.9 311.6h0M838.7 312.4h0M839.9 309.6h0M840.6 312.6h0M841.8 314.2h0M842.7 316.2h0M843.3 315.8h0M844.2 319.1h0M845.6 318.9h0M845.8 322.0h0M846.5 323.3h0M847.3 323.7h0M847.8 325.5h0M847.7 328.3h0M848.8 330.0h0M849.1 326.7h0M849.4 326.0h0M850.1 326.2h0M850.4 323.0h0M850.9 322.6h0M851.1 320.9h0M851.9 319.1h0M851.6 316.2h0M852.5 315.1h0M854.1 313.8h0M855.3 313.2h0M856.0 313.2h0M857.3 313.5h0M859.0 315.0h0M859.9 315.5h0M860.8 315.9h0M862.0 314.4h0M864.0 313.7h0M864.9 315.2h0M866.0 313.8h0M867.3 316.1h0M868.3 315.1h0M869.3 316.1h0M870.5 317.5h0M872.0 317.7h0M872.7 317.9h0M874.5 319.7h0M875.2 318.2h0M876.6 319.7h0M877.9 318.3h0M879.0 319.7h0M879.9 320.4h0M881.2 318.7h0M882.6 320.4h0M884.0 318.2h0M885.4 317.9h0M886.7 318.3h0M887.8 318.2h0M888.9 319.9h0M890.2 319.5h0M891.4 319.5h0M892.2 318.4h0M893.7 320.0h0M895.2 320.6h0M896.3 319.7h0M897.4 321.3h0M898.5 319.7h0M899.9 321.3h0M901.1 319.7h0M902.8 319.3h0M903.4 320.2h0M905.0 319.3h0M906.3 319.1h0M907.0 319.1h0M908.5 320.8h0M910.1 321.2h0M910.8 320.2h0M912.2 319.8h0M914.2 320.1h0M910.2 320.1h0M911.1 321.4h0M912.8 319.5h0M913.7 320.9h0M914.7 319.3h0M916.3 320.0h0M917.1 321.7h0M919.0 320.9h0M919.6 319.0h0M921.2 319.8h0M922.6 321.1h0M923.5 322.0h0M925.2 322.0h0M926.0 323.5h0M927.3 321.9h0M928.4 322.0h0M929.5 322.1h0M930.8 324.3h0M932.3 323.0h0M933.5 323.4h0M934.5 325.2h0M936.1 324.0h0M937.1 323.7h0M938.3 325.5h0M939.5 325.4h0M941.0 324.7h0M941.8 322.7h0M943.6 322.0h0M944.6 321.1h0M945.8 319.9h0M947.1 322.8h0M948.0 322.6h0M948.9 323.6h0M950.5 323.9h0M951.9 325.4h0M952.9 322.6h0M954.5 323.4h0M955.7 323.0h0M955.9 325.8h0M957.0 326.0h0M958.2 326.3h0M959.8 326.0h0M960.7 326.9h0M961.8 328.3h0M963.2 328.5h0M964.5 328.0h0M965.9 327.5h0M967.1 328.2h0M968.0 329.7h0M969.8 329.9h0M970.7 330.1h0M972.2 328.5h0M973.3 330.4h0M974.6 331.3h0M975.9 330.6h0M976.6 329.9h0M978.0 330.4h0M979.0 328.6h0M980.5 330.1h0M981.9 328.4h0M982.9 328.2h0M984.2 327.8h0M985.6 327.3h0M986.6 328.3h0M988.4 329.5h0M989.6 329.8h0M990.6 331.2h0M991.6 331.0h0M992.9 331.9h0M994.3 331.7h0M995.8 332.8h0M996.7 331.3h0M997.8 333.9h0M999.1 334.1h0M1000.1 333.5h0M1001.6 335.9h0M1002.5 335.4h0M1003.7 335.3h0M1005.2 333.9h0M1006.0 333.3h0M1007.5 332.2h0M1008.2 332.8h0M1008.9 331.8h0M1010.3 331.3h0M1011.4 329.4h0M1013.3 329.6h0M1014.6 330.6h0M1015.6 329.3h0M1016.6 330.0h0M1017.8 331.8h0M1019.6 330.2h0M1020.3 331.6h0M1022.0 330.6h0M1022.9 331.5h0M1024.2 330.9h0M1025.7 334.0h0M1026.6 334.6h0M1027.8 334.6h0M1028.6 336.2h0M1029.0 337.4h0M1030.6 339.8h0M1031.5 341.1h0M1031.9 342.3h0M1033.2 342.9h0M1034.1 343.7h0M1035.3 343.0h0M1036.5 344.0h0M1037.3 343.9h0M1038.1 340.9h0M1038.3 339.5h0M1040.1 338.8h0M1041.0 339.4h0M1042.4 339.1h0M1043.8 337.1h0M1044.8 336.5h0M1046.0 337.7h0M1047.9 337.6h0M1049.0 337.3h0M1050.4 336.3h0M1051.1 335.6h0M1052.4 334.4h0M1053.7 333.6h0M1054.8 333.9h0M1056.2 335.5h0M1057.6 334.0h0M1059.0 336.2h0M1060.1 336.7h0M1060.7 335.0h0M1062.2 337.0h0M1063.4 337.3h0M1065.1 334.8h0M1066.2 335.4h0M1067.1 334.4h0M1068.6 334.9h0M1069.4 334.9h0M1071.0 333.1h0M1072.3 334.8h0M1073.1 334.9h0M1075.1 335.8h0M1076.1 334.5h0M1077.4 336.5h0M1078.0 334.7h0M1079.4 334.9h0M1080.5 335.9h0M1081.7 333.8h0M1083.6 335.5h0M1084.8 334.4h0M1086.0 334.8h0M1086.8 335.8h0M1088.1 336.5h0M1089.3 338.4h0M1091.1 339.1h0M1092.0 337.9h0M1093.1 338.3h0M1094.2 340.5h0M1095.7 339.5h0M1096.7 339.3h0M1097.8 339.1h0M1099.5 340.3h0M1100.9 338.7h0M1102.2 340.3h0M1103.3 339.1h0M1104.0 339.5h0M1105.8 340.2h0M1107.1 341.1h0M1108.1 343.1h0M1109.0 342.3h0M1110.7 342.5h0M1111.9 340.5h0M1113.2 341.8h0M1114.0 341.7h0M1115.2 339.6h0M1116.0 342.4h0M1116.8 342.8h0M1117.3 345.7h0M1117.9 342.9h0M1118.5 341.9h0M1119.4 341.8h0M1120.5 340.6h0M1121.6 342.6h0M1122.8 343.2h0M1123.8 342.0h0M1125.4 342.8h0M1126.7 344.5h0M1128.2 345.5h0M1129.4 346.8h0M1131.0 346.3h0M1131.7 344.6h0M1132.9 345.4h0M1133.9 343.7h0M1134.7 343.0h0M1135.4 341.7h0M1136.9 339.6h0M1137.9 339.7h0M1139.7 341.1h0M1140.4 342.0h0M1141.2 343.5h0M1142.1 343.4h0M1142.9 346.0h0M1143.9 346.9h0M1145.3 348.4h0M1146.3 348.4h0M1147.0 349.8h0M1148.0 350.7h0M1149.8 348.8h0M1150.7 349.9h0M1151.5 352.5h0M1152.3 353.9h0M1153.9 353.9h0M1155.1 353.9h0M1156.0 352.7h0M1156.7 350.8h0M1157.1 347.8h0M1158.3 345.7h0M1159.2 344.4h0M1160.0 344.8h0M1149.7 347.0h0M1150.9 348.5h0M1151.5 350.1h0M1152.2 351.5h0M1153.5 352.4h0M1154.8 352.9h0M1155.2 353.4h0M1155.6 352.2h0M1156.7 349.5h0M1157.3 348.2h0M1158.5 347.6h0M1159.2 345.2h0M1160.3 346.3h0M1161.8 344.8h0M1163.2 346.1h0M1164.6 345.0h0M1166.2 346.3h0M1167.6 344.5h0M1169.1 344.4h0M1171.1 345.8h0M1172.4 344.2h0M1173.9 344.5h0M1175.2 345.1h0M1176.2 345.7h0M1176.8 346.0h0M1177.2 343.8h0M1178.5 343.0h0M1180.1 343.7h0M1181.4 341.8h0M1182.6 343.2h0M1184.2 343.6h0M1185.9 343.6h0M1187.3 343.7h0M1188.4 343.2h0M1190.5 345.5h0M1191.0 347.1h0M1191.6 346.6h0M1192.5 349.5h0M1193.1 348.4h0M1194.9 348.4h0M1195.5 351.4h0M1196.5 352.4h0M1197.5 353.5h0M1198.0 350.7h0M1199.5 351.0h0M1200.1 348.2h0M1200.7 348.8h0M1202.2 347.3h0M1202.6 346.4h0M1204.0 347.2h0M1205.2 347.9h0M1205.9 348.6h0M1207.2 348.2h0M1208.4 350.2h0M1210.2 348.6h0M1211.5 348.5h0M1213.2 348.3h0M1214.9 347.5h0M1215.3 350.1h0M1215.9 349.5h0M1216.7 352.7h0M1218.2 353.1h0M1219.1 353.4h0M1220.1 351.6h0M1221.7 351.4h0M1223.2 351.4h0M1224.8 351.3h0M1225.2 352.0h0M1226.0 351.0h0M1226.8 348.5h0M1227.8 350.3h0M1229.2 349.2h0M1229.8 350.9h0M1230.6 351.8h0M1230.8 353.2h0M1231.7 351.7h0M1232.9 350.7h0M1233.5 350.8h0M1234.4 351.4h0M1236.2 351.9h0M1237.9 352.3h0M1239.1 351.6h0M1239.6 354.7h0M1240.8 355.9h0M1241.8 355.3h0M1242.7 356.2h0M1243.6 356.8h0M1244.9 356.7h0M1246.6 356.2h0M1247.8 356.6h0M1247.9 355.3h0M1249.6 353.5h0M1251.3 353.7h0M1252.6 354.1h0M1254.3 354.5h0M1255.7 352.3h0M1256.9 353.3h0M1258.4 350.9h0M1260.3 351.9h0M1261.7 351.5h0M1263.5 351.5h0M1264.2 351.2h0M1265.4 353.3h0M1266.0 352.1h0M1267.9 354.2h0M1268.9 353.2h0M1270.3 355.3h0M1270.6 356.2h0M1272.1 356.9h0M1273.1 355.8h0M1273.8 356.6h0M1274.9 357.9h0M1275.8 358.6h0M1277.5 361.4h0M1278.5 361.9h0M1279.3 361.7h0M1280.3 362.2h0M1280.6 363.3h0M1281.2 366.7h0M1281.7 364.8h0M1283.2 364.6h0M1284.3 363.7h0M1285.2 364.2h0M1286.7 362.1h0M1288.7 363.6h0M1288.3 363.1h0M1288.8 364.7h0M1289.4 367.2h0M1289.7 367.5h0M1290.7 368.1h0M1292.3 370.3h0M1293.2 370.8h0M1293.3 371.8h0"/>
<path fill="none" stroke="#ff0000" stroke-width="4.3" stroke-linecap="round" d="M185.2 440.1h0M186.1 429.0h0M190.7 422.6h0M191.7 421.2h0M192.6 419.8h0M194.4 418.9h0M195.0 427.7h0M196.3 417.9h0M198.1 417.0h0M200.0 417.9h0M200.5 446.6h0M201.8 419.8h0M202.8 420.7h0M203.7 421.6h0M204.6 422.6h0M205.5 423.5h0M208.3 414.2h0M210.2 388.9h0M209.2 417.9h0M210.6 417.5h0M212.0 417.0h0M212.0 425.3h0M213.9 417.9h0M217.6 413.9h0M218.5 420.7h0M220.3 420.7h0M219.4 426.3h0M222.2 418.9h0M224.0 408.7h0M225.0 417.9h0M225.6 419.5h0M226.2 421.0h0M226.8 422.6h0M228.7 423.5h0M229.3 425.6h0M230.0 427.7h0M232.4 418.9h0M233.3 412.9h0M234.6 433.7h0M236.1 419.8h0M236.5 422.1h0M237.0 424.4h0M238.8 413.3h0M238.8 418.9h0M244.4 411.5h0M244.4 419.8h0M246.2 420.7h0M247.2 426.3h0M247.8 424.7h0M248.4 423.2h0M249.0 421.6h0M249.5 423.0h0M249.9 424.4h0M250.9 423.0h0M251.8 421.6h0M253.2 420.7h0M254.6 419.8h0M256.4 418.9h0M258.3 411.5h0M259.2 424.4h0M260.1 425.3h0M261.0 426.3h0M262.0 428.1h0M262.9 430.0h0M263.8 428.6h0M264.7 427.2h0M268.4 420.7h0M269.8 422.1h0M271.2 423.5h0M272.2 429.0h0M289.7 440.1h0M290.7 434.6h0M292.0 435.1h0M293.4 435.5h0M294.9 425.3h0M297.1 433.7h0M298.1 432.3h0M299.0 430.9h0M300.8 430.0h0M301.8 431.4h0M302.7 432.7h0M303.1 434.1h0M303.6 435.5h0M305.5 443.8h0M305.9 441.5h0M306.4 439.2h0M307.8 440.1h0M309.2 441.1h0M310.5 440.6h0M311.9 440.1h0M312.4 442.0h0M312.9 443.8h0M313.8 444.8h0M314.7 445.7h0M315.6 446.6h0M316.6 447.5h0M317.5 448.5h0M318.4 449.4h0M319.8 448.0h0M321.2 446.6h0M323.0 447.5h0M324.0 446.6h0M324.9 445.7h0M325.8 447.1h0M326.7 448.5h0M327.2 447.1h0M327.7 445.7h0M328.1 447.5h0M328.6 449.4h0M329.5 450.8h0M330.4 452.2h0M331.8 454.0h0M333.2 455.9h0M335.1 443.8h0M336.5 444.8h0M337.8 445.7h0M338.8 447.1h0M339.7 448.5h0M340.6 449.4h0M341.5 450.3h0M342.5 448.5h0M343.4 446.6h0M344.3 445.7h0M347.1 453.1h0M348.0 451.2h0M348.9 449.4h0M351.7 443.8h0M352.6 449.4h0M354.5 449.4h0M355.4 447.5h0M356.3 445.7h0M358.2 455.9h0M359.1 454.3h0M360.0 452.8h0M361.0 451.2h0M364.7 455.9h0M366.5 456.8h0M368.4 450.3h0M370.2 450.3h0M372.1 450.3h0M373.5 448.9h0M374.9 447.5h0M375.8 449.4h0M376.7 451.2h0M377.6 452.6h0M378.6 454.0h0M379.5 452.2h0M380.4 450.3h0M381.8 451.2h0M383.2 452.2h0M384.6 452.2h0M386.0 452.2h0M386.9 450.3h0M387.8 448.5h0M388.4 450.0h0M389.0 451.6h0M389.7 453.1h0M391.0 454.5h0M392.4 455.9h0M393.4 457.3h0M394.3 458.6h0M399.8 455.9h0M402.6 448.5h0M403.5 449.9h0M404.5 451.2h0M405.1 452.8h0M405.7 454.3h0M406.3 455.9h0M407.2 456.8h0M408.2 457.7h0M410.0 464.2h0M411.9 454.0h0M412.5 455.6h0M413.1 457.1h0M413.7 458.6h0M415.6 459.6h0M417.4 465.1h0M419.3 459.6h0M421.1 458.6h0M422.5 459.6h0M423.9 460.5h0M192.6 420.8h0M194.7 417.9h0M196.7 417.6h0M201.2 418.6h0M201.8 420.3h0M201.9 420.8h0M203.4 423.9h0M211.0 418.4h0M211.1 418.7h0M210.7 417.3h0M212.6 423.9h0M216.1 414.5h0M218.6 418.7h0M221.4 417.8h0M226.2 417.9h0M226.5 421.1h0M226.7 419.2h0M225.9 421.9h0M228.1 426.2h0M230.5 426.2h0M233.6 419.8h0M231.7 413.6h0M236.2 425.6h0M237.9 412.6h0M240.8 418.6h0M244.6 418.2h0M246.4 419.7h0M248.0 427.0h0M249.3 423.8h0M253.7 421.6h0M256.5 420.6h0M257.7 413.2h0M261.3 425.9h0M261.7 425.0h0M261.8 429.8h0M263.6 427.1h0M269.6 421.7h0M268.7 422.4h0M291.8 434.5h0M291.1 434.3h0M293.9 434.6h0M295.8 424.1h0M296.0 433.8h0M299.8 431.8h0M299.3 429.1h0M300.3 432.1h0M303.4 434.3h0M302.5 432.6h0M303.5 437.4h0M304.5 442.1h0M307.5 439.3h0M306.7 439.3h0M309.6 442.2h0M312.1 438.2h0M312.2 445.1h0M313.9 443.3h0M314.3 447.5h0M318.2 448.6h0M316.6 447.2h0M317.5 448.4h0M321.3 448.3h0M321.7 448.3h0M324.8 443.7h0M329.1 445.9h0M326.9 448.9h0M329.7 449.1h0M329.2 452.4h0M333.1 453.3h0M334.6 455.8h0M336.3 443.9h0M334.6 445.2h0M337.5 446.4h0M340.9 449.2h0M341.6 449.9h0M341.6 450.0h0M345.4 446.2h0M346.7 452.5h0M349.3 451.0h0M352.4 444.8h0M355.5 450.1h0M356.4 444.1h0M357.4 455.1h0M359.8 452.8h0M362.1 450.8h0M365.6 454.7h0M372.7 449.7h0M374.2 450.5h0M379.3 455.3h0M380.0 453.3h0M384.1 453.4h0M387.5 449.4h0M387.1 447.0h0M387.9 448.7h0M390.0 453.3h0M388.4 452.2h0M391.2 453.0h0M391.7 454.3h0M394.9 457.8h0M402.1 449.8h0M404.4 454.6h0M411.4 464.3h0M413.2 455.2h0M412.8 454.0h0M411.8 457.0h0M412.5 459.3h0M423.3 458.3h0M422.9 459.8h0M420.9 458.7h0M422.3 459.1h0M423.7 459.6h0M425.1 458.2h0M426.5 456.8h0M427.4 458.7h0M428.3 460.5h0M429.7 458.7h0M431.1 456.8h0M432.5 457.3h0M433.9 457.8h0M435.3 458.7h0M436.7 459.6h0M438.0 460.5h0M439.4 461.5h0M440.8 459.6h0M442.2 457.8h0M443.6 458.7h0M445.0 459.6h0M445.6 458.1h0M446.2 456.5h0M446.8 455.0h0M448.7 454.1h0M452.4 458.7h0M453.3 453.1h0M454.7 452.2h0M456.1 451.3h0M457.0 450.4h0M457.9 449.4h0M458.9 451.3h0M459.8 453.1h0M461.6 454.1h0M462.6 453.1h0M463.5 452.2h0M471.8 453.1h0M472.7 454.5h0M473.7 455.9h0M478.3 463.3h0M479.2 464.7h0M480.1 466.1h0M479.2 471.6h0M480.6 470.2h0M482.0 468.9h0M482.9 467.9h0M483.8 467.0h0M485.7 466.1h0M486.6 467.5h0M487.5 468.9h0M489.4 463.3h0M490.8 464.7h0M492.2 466.1h0M493.1 467.0h0M494.0 467.9h0M494.9 469.8h0M495.9 471.6h0M496.5 470.1h0M497.1 468.6h0M497.7 467.0h0M498.6 468.4h0M499.6 469.8h0M500.5 468.9h0M501.4 467.9h0M504.2 459.6h0M506.0 467.9h0M522.7 467.9h0M524.6 459.6h0M525.5 461.0h0M526.4 462.4h0M527.8 463.8h0M529.2 465.2h0M530.1 466.5h0M531.0 467.9h0M531.5 465.6h0M532.0 463.3h0M533.8 469.8h0M534.7 471.6h0M535.7 473.5h0M535.7 479.0h0M537.0 477.6h0M538.4 476.3h0M540.3 475.3h0M542.1 469.8h0M543.5 468.9h0M544.9 467.9h0M546.3 467.5h0M547.7 467.0h0M549.1 466.1h0M550.5 465.2h0M551.4 466.1h0M552.3 467.0h0M553.7 467.5h0M555.1 467.9h0M556.0 469.8h0M556.9 471.6h0M557.9 470.2h0M558.8 468.9h0M560.6 467.9h0M561.6 469.8h0M562.5 471.6h0M564.3 466.1h0M565.3 467.5h0M566.2 468.9h0M568.0 467.9h0M570.8 473.5h0M573.6 467.9h0M574.5 469.3h0M575.4 470.7h0M583.8 469.8h0M585.6 463.3h0M586.5 464.7h0M587.5 466.1h0M589.3 460.5h0M591.2 459.6h0M593.0 460.5h0M593.9 461.9h0M594.9 463.3h0M595.8 464.2h0M596.7 465.2h0M604.1 473.5h0M607.8 480.0h0M608.7 478.1h0M609.7 476.3h0M612.5 466.1h0M613.4 472.6h0M615.2 471.6h0M617.1 470.7h0M618.0 472.6h0M618.9 474.4h0M619.9 476.3h0M620.8 478.1h0M623.6 483.7h0M624.5 484.6h0M625.4 485.5h0M626.8 485.5h0M628.2 485.5h0M629.1 483.7h0M630.0 481.8h0M632.8 487.4h0M634.2 488.8h0M635.6 490.1h0M637.0 490.6h0M638.4 491.1h0M641.1 483.7h0M643.9 492.0h0M644.8 492.9h0M645.8 493.8h0M647.1 494.8h0M648.5 495.7h0M649.9 495.7h0M651.3 495.7h0M652.7 495.7h0M654.1 495.7h0M655.5 495.7h0M656.9 495.7h0M661.5 504.0h0M662.9 502.2h0M664.3 500.3h0M666.1 499.4h0M668.0 498.5h0M421.9 457.9h0M429.9 459.7h0M427.9 459.4h0M431.7 458.2h0M432.4 456.5h0M434.8 460.0h0M435.0 458.5h0M439.2 460.3h0M441.9 459.2h0M444.5 458.1h0M446.8 454.7h0M448.1 455.9h0M447.7 453.5h0M453.5 458.4h0M453.3 454.5h0M455.1 450.3h0M455.8 451.0h0M460.3 450.8h0M460.4 452.0h0M463.7 452.3h0M471.1 452.3h0M473.7 454.2h0M479.6 463.2h0M479.2 473.2h0M481.0 469.0h0M481.5 467.4h0M485.0 468.0h0M485.6 468.3h0M486.5 467.6h0M487.8 462.0h0M490.2 465.9h0M494.2 470.8h0M497.5 470.8h0M497.5 468.0h0M503.0 467.3h0M522.3 466.4h0M525.2 457.9h0M527.7 461.7h0M528.2 462.8h0M527.4 464.3h0M529.6 467.7h0M533.0 463.7h0M534.5 468.6h0M534.1 472.7h0M534.9 474.2h0M537.5 476.2h0M539.5 474.4h0M543.9 470.4h0M543.6 469.9h0M543.7 468.1h0M546.9 465.6h0M549.5 466.2h0M552.2 464.8h0M552.8 465.6h0M554.7 468.8h0M555.8 471.3h0M556.9 471.4h0M558.7 469.9h0M561.7 469.0h0M560.0 469.8h0M561.1 472.5h0M566.5 467.5h0M567.2 468.5h0M567.5 466.3h0M571.1 474.5h0M573.9 467.6h0M584.8 464.2h0M590.0 460.5h0M592.6 461.5h0M594.8 463.2h0M598.2 465.2h0M613.7 466.7h0M611.6 471.8h0M613.5 471.7h0M616.1 471.3h0M625.4 483.5h0M623.0 484.4h0M626.2 486.5h0M629.3 486.1h0M629.9 480.2h0M632.5 489.2h0M633.9 487.1h0M635.4 491.3h0M637.0 491.9h0M638.7 492.1h0M640.6 484.9h0M643.2 493.1h0M646.9 494.9h0M649.3 493.9h0M654.7 494.6h0M655.7 496.2h0M662.2 503.2h0M664.2 501.4h0M669.3 498.3h0M665.0 499.6h0M666.4 498.7h0M667.8 497.8h0M669.2 497.3h0M670.6 496.8h0M671.5 498.2h0M672.4 499.6h0M673.8 500.5h0M675.2 501.5h0M676.6 502.8h0M678.0 504.2h0M678.9 505.8h0M679.8 507.3h0M680.7 508.9h0M681.7 507.9h0M682.6 507.0h0M683.5 505.2h0M684.4 503.3h0M685.4 501.9h0M686.3 500.5h0M687.2 502.4h0M688.1 504.2h0M690.0 498.7h0M690.9 499.6h0M691.8 500.5h0M692.8 501.9h0M693.7 503.3h0M695.1 501.9h0M696.5 500.5h0M697.8 499.6h0M699.2 498.7h0M701.1 497.8h0M702.5 495.9h0M703.9 494.1h0M704.8 495.0h0M705.7 495.9h0M706.6 497.8h0M707.6 499.6h0M709.4 494.1h0M710.8 494.1h0M712.2 494.1h0M713.1 493.1h0M714.0 492.2h0M715.4 491.7h0M716.8 491.3h0M718.2 491.3h0M719.6 491.3h0M721.4 490.4h0M723.3 495.9h0M724.2 497.3h0M725.1 498.7h0M725.8 500.2h0M726.4 501.8h0M727.0 503.3h0M729.8 496.8h0M731.2 495.9h0M732.5 495.0h0M733.5 496.4h0M734.4 497.8h0M735.3 499.1h0M736.2 500.5h0M737.6 501.5h0M739.0 502.4h0M739.9 504.2h0M740.9 506.1h0M742.3 505.2h0M743.6 504.2h0M744.6 506.1h0M745.5 507.9h0M746.1 506.4h0M746.7 504.9h0M747.3 503.3h0M748.3 504.7h0M749.2 506.1h0M750.1 507.9h0M751.0 509.8h0M752.0 500.5h0M752.9 502.4h0M753.8 504.2h0M756.6 527.4h0M756.6 556.0h0M757.2 557.6h0M757.8 559.1h0M758.4 560.7h0M759.4 503.3h0M765.9 532.9h0M765.9 502.4h0M766.8 504.2h0M767.7 506.1h0M768.2 507.9h0M768.6 509.8h0M770.0 510.7h0M771.4 511.6h0M772.8 511.2h0M774.2 510.7h0M775.1 509.3h0M776.0 507.9h0M777.0 509.8h0M777.9 511.6h0M780.7 506.1h0M781.6 507.0h0M782.5 507.9h0M783.9 508.9h0M785.3 509.8h0M786.7 511.2h0M788.1 512.6h0M792.7 506.1h0M794.1 505.6h0M795.5 505.2h0M796.8 507.0h0M798.2 508.9h0M799.6 510.2h0M801.0 511.6h0M801.9 513.5h0M802.9 515.3h0M804.2 516.3h0M805.6 517.2h0M807.0 517.6h0M808.4 518.1h0M809.8 518.6h0M811.2 519.0h0M811.2 534.4h0M813.0 518.1h0M814.9 519.0h0M816.7 520.0h0M818.1 518.6h0M819.5 517.2h0M820.9 516.3h0M822.3 515.3h0M823.7 514.9h0M825.1 514.4h0M826.5 513.5h0M827.8 512.6h0M828.8 514.4h0M829.7 516.3h0M831.1 517.2h0M832.5 518.1h0M833.9 517.6h0M835.2 517.2h0M836.6 516.3h0M838.0 515.3h0M839.9 514.4h0M842.6 522.7h0M844.0 524.6h0M845.4 526.4h0M848.2 532.0h0M849.1 530.6h0M850.0 529.2h0M851.4 527.4h0M852.8 525.5h0M854.2 524.1h0M855.6 522.7h0M857.5 522.3h0M859.3 521.8h0M860.7 521.8h0M862.1 521.8h0M863.5 521.4h0M864.9 520.9h0M866.1 522.1h0M867.3 523.4h0M868.6 524.6h0M869.9 524.1h0M871.3 523.7h0M872.7 524.1h0M874.1 524.6h0M875.5 525.1h0M876.9 525.5h0M878.3 525.1h0M879.7 524.6h0M881.0 524.1h0M882.4 523.7h0M884.3 523.2h0M886.1 522.7h0M888.0 522.7h0M889.8 522.7h0M891.2 522.7h0M892.6 522.7h0M894.5 524.1h0M896.3 525.5h0M897.7 525.5h0M899.1 525.5h0M900.5 525.1h0M901.9 524.6h0M903.7 524.1h0M905.6 523.7h0M907.4 523.7h0M909.3 523.7h0M911.1 523.2h0M913.0 522.7h0M663.6 500.2h0M670.4 499.8h0M673.0 500.7h0M674.6 498.8h0M675.5 502.0h0M680.5 506.5h0M679.4 508.9h0M682.6 507.0h0M684.0 507.0h0M684.2 502.0h0M684.1 501.3h0M684.9 501.4h0M688.6 502.7h0M686.5 504.9h0M690.8 497.8h0M691.2 501.3h0M692.4 503.6h0M696.2 502.1h0M696.1 502.0h0M698.8 498.2h0M701.4 494.9h0M703.9 492.2h0M704.0 495.4h0M706.3 499.1h0M709.3 495.4h0M711.5 493.2h0M710.7 494.0h0M714.3 493.3h0M718.2 492.4h0M719.1 490.8h0M719.1 492.2h0M721.6 496.0h0M725.0 496.6h0M725.0 497.3h0M725.8 500.8h0M730.3 497.7h0M736.2 497.5h0M735.0 498.1h0M738.6 503.7h0M741.5 506.9h0M742.0 505.2h0M744.1 507.3h0M744.5 506.5h0M744.6 506.1h0M746.4 506.1h0M750.6 506.7h0M752.5 499.4h0M755.4 504.6h0M757.1 554.5h0M756.6 556.3h0M765.4 505.6h0M768.7 506.9h0M769.8 507.3h0M767.2 509.4h0M768.6 511.2h0M770.4 510.4h0M772.6 511.6h0M774.0 510.6h0M774.3 507.8h0M776.3 510.5h0M782.3 506.1h0M784.1 507.2h0M787.5 514.1h0M794.0 506.8h0M794.3 504.6h0M795.8 505.4h0M799.3 508.8h0M799.7 508.3h0M803.4 514.5h0M802.9 515.2h0M804.5 516.0h0M807.1 519.0h0M810.9 518.7h0M809.9 520.4h0M813.6 516.9h0M813.5 518.4h0M818.0 520.4h0M823.1 514.6h0M828.1 511.2h0M834.4 516.6h0M836.1 515.0h0M844.9 526.1h0M848.5 530.9h0M849.6 527.4h0M852.3 527.9h0M853.8 522.3h0M857.6 524.2h0M860.9 521.4h0M861.4 523.2h0M862.5 520.7h0M864.4 519.8h0M863.7 521.6h0M865.5 520.3h0M865.8 522.7h0M868.5 523.3h0M871.3 523.6h0M872.4 524.5h0M872.8 524.8h0M874.3 523.8h0M877.4 526.7h0M881.1 525.2h0M884.8 522.0h0M889.8 523.2h0M893.0 523.2h0M897.7 526.9h0M899.2 526.3h0M897.9 524.0h0M901.0 526.0h0M907.0 522.2h0M914.1 522.5h0M909.9 524.7h0M911.6 522.6h0M913.1 521.2h0M914.3 521.0h0M915.3 522.2h0M916.7 520.4h0M918.7 520.8h0M919.8 520.6h0M920.8 519.7h0M922.0 516.7h0M923.6 518.6h0M925.1 519.4h0M925.9 520.7h0M927.3 521.6h0M929.1 521.6h0M930.6 522.5h0M932.5 522.0h0M933.8 522.6h0M936.1 521.7h0M937.5 522.3h0M939.4 524.1h0M941.7 524.8h0M943.7 524.6h0M945.5 524.0h0M946.9 522.2h0M947.6 522.5h0M949.7 523.6h0M950.7 523.0h0M952.7 520.3h0M954.4 519.9h0M955.6 520.5h0M956.8 522.6h0M958.4 525.4h0M959.6 525.3h0M961.7 525.3h0M962.8 526.0h0M964.5 527.1h0M965.5 529.6h0M968.3 535.2h0M970.5 528.2h0M971.8 528.7h0M974.2 530.9h0M975.4 531.6h0M976.3 532.0h0M977.8 532.5h0M979.7 532.5h0M980.6 529.6h0M981.9 527.6h0M983.9 527.4h0M984.7 526.9h0M986.4 528.3h0M987.9 526.4h0M989.4 527.8h0M991.1 528.8h0M992.6 530.2h0M994.3 531.5h0M995.2 531.9h0M997.3 532.3h0M999.2 533.8h0M1000.3 532.3h0M1002.1 534.5h0M1003.7 536.3h0M1004.1 535.1h0M1005.4 534.8h0M1006.5 534.7h0M1008.2 535.3h0M1009.8 531.4h0M1010.7 531.5h0M1012.6 528.6h0M1013.7 528.4h0M1015.3 528.2h0M1016.1 530.5h0M1017.7 529.3h0M1019.0 529.9h0M1020.8 529.9h0M1022.2 532.2h0M1023.8 533.1h0M1026.0 534.3h0M1026.7 533.8h0M1028.4 536.6h0M1029.8 536.8h0M1030.8 539.7h0M1033.0 541.1h0M1034.4 540.7h0M1035.3 541.2h0M1036.5 542.7h0M1038.3 540.8h0M1039.7 538.0h0M1041.2 538.2h0M1042.0 535.4h0M1044.0 536.3h0M1045.3 534.4h0M1046.8 536.8h0M1047.8 537.8h0M1049.0 536.2h0M1050.6 533.6h0M1051.6 533.7h0M1053.3 533.4h0M1054.6 531.5h0M1055.8 531.4h0M1058.3 533.0h0M1059.0 533.6h0M1061.1 534.3h0M1062.2 534.1h0M1063.7 534.2h0M1065.0 533.4h0M1066.1 530.4h0M1068.0 531.4h0M1069.1 530.5h0M1070.4 530.7h0M1071.9 529.1h0M1073.4 531.1h0M1074.7 531.4h0M1076.5 530.6h0M1078.6 531.7h0M1079.7 530.9h0M1081.5 529.4h0M1082.2 531.2h0M1084.1 529.7h0M1085.6 532.3h0M1086.4 532.4h0M1088.2 534.3h0M1089.6 533.7h0M1090.9 534.7h0M1092.1 532.6h0M1093.9 535.7h0M1095.8 535.7h0M1098.2 535.3h0M1099.9 535.4h0M1101.6 537.0h0M1103.7 537.6h0M1105.1 537.0h0M1105.9 538.2h0M1107.5 537.7h0M1109.0 538.9h0M1110.0 537.5h0M1111.3 538.5h0M1112.9 536.9h0M1114.3 538.9h0M1115.8 539.9h0M1117.1 540.0h0M1118.7 539.1h0M1119.6 539.3h0M1121.4 539.3h0M1122.7 538.9h0M1124.1 537.9h0M1125.8 540.3h0M1126.8 539.8h0M1128.2 542.3h0M1130.0 541.6h0M1131.5 542.1h0M1132.2 540.0h0M1133.9 539.7h0M1135.5 538.0h0M1137.5 535.7h0M1139.3 536.2h0M1140.1 537.1h0M1142.0 539.4h0M1143.4 539.3h0M1144.7 540.9h0M1146.5 540.3h0M1148.2 541.0h0M1149.4 542.6h0M1150.7 543.8h0M1152.5 546.2h0M1154.4 545.1h0M1156.2 544.6h0M1157.2 541.8h0M1158.9 542.3h0M1150.0 542.0h0M1151.1 543.8h0M1152.2 545.7h0M1153.3 545.0h0M1154.5 544.2h0M1156.0 543.8h0M1157.4 543.5h0M1158.2 542.0h0M1158.9 540.5h0M1161.2 540.5h0M1162.6 540.5h0M1164.1 540.5h0M1165.6 540.5h0M1167.1 540.5h0M1168.6 540.1h0M1170.1 539.8h0M1171.6 540.5h0M1173.1 541.2h0M1174.5 542.0h0M1175.7 540.9h0M1176.8 539.8h0M1183.5 537.5h0M1185.0 537.2h0M1186.5 536.8h0M1186.5 558.4h0M1188.7 538.3h0M1189.8 539.4h0M1190.9 540.5h0M1192.0 542.0h0M1193.1 543.5h0M1195.4 543.5h0M1197.6 542.7h0M1199.8 542.7h0M1201.0 542.0h0M1202.1 541.2h0M1203.6 540.5h0M1208.8 542.7h0M1211.0 543.5h0M1213.2 543.5h0M1214.3 542.7h0M1215.5 542.0h0M1216.2 543.5h0M1217.0 545.0h0M1217.7 546.5h0M1218.8 545.7h0M1219.9 545.0h0M1221.4 545.3h0M1222.9 545.7h0M1224.4 544.2h0M1225.9 542.7h0M1228.1 543.5h0M1229.2 545.0h0M1230.3 546.5h0M1234.8 542.7h0M1236.3 543.8h0M1237.8 545.0h0M1240.0 545.7h0M1241.1 546.8h0M1242.2 547.9h0M1244.5 548.7h0M1246.7 548.7h0M1251.9 546.5h0M1254.1 545.7h0M1256.4 545.7h0M1258.2 545.7h0M1260.1 545.7h0M1262.3 545.0h0M1264.6 544.2h0M1266.8 545.0h0M1269.0 545.7h0M1270.1 546.8h0M1271.3 547.9h0M1272.4 548.7h0M1273.5 549.4h0M1274.6 550.2h0M1275.7 550.9h0M1276.8 552.0h0M1277.9 553.1h0M1279.1 554.6h0M1280.2 556.1h0M1282.4 556.9h0M1284.3 555.7h0M1286.1 554.6h0M1287.2 555.4h0M1288.4 556.1h0M1289.1 557.6h0M1289.9 559.1h0M1291.3 559.5h0M1292.8 559.8h0M1152.7 544.4h0M1153.3 543.2h0M1155.5 545.7h0M1155.8 544.6h0M1156.9 541.5h0M1159.2 542.0h0M1162.0 541.1h0M1162.7 539.3h0M1167.0 539.2h0M1168.6 541.7h0M1169.6 538.2h0M1176.0 539.0h0M1177.9 539.1h0M1185.3 538.2h0M1184.0 538.8h0M1187.4 537.9h0M1187.2 539.4h0M1192.9 540.3h0M1195.7 544.9h0M1200.0 542.7h0M1204.5 539.8h0M1213.9 541.1h0M1214.4 541.8h0M1216.2 544.7h0M1219.5 544.8h0M1220.3 546.8h0M1220.2 545.8h0M1223.1 546.9h0M1225.5 545.1h0M1225.7 541.5h0M1229.0 541.9h0M1228.1 545.6h0M1232.2 546.1h0M1235.1 542.6h0M1239.3 547.5h0M1240.8 547.8h0M1243.5 548.1h0M1245.6 549.5h0M1245.6 549.9h0M1255.1 545.2h0M1256.6 547.4h0M1256.6 546.7h0M1264.5 545.8h0M1267.0 543.8h0M1269.5 545.2h0M1269.6 549.0h0M1273.0 549.6h0M1273.4 551.0h0M1274.8 551.5h0M1277.8 554.5h0M1282.4 555.8h0M1286.0 555.4h0M1285.4 553.9h0M1287.3 554.1h0M1287.2 554.6h0M1291.3 558.5h0M1291.2 558.3h0M1291.0 560.3h0"/>
<path fill="none" stroke="#000000" stroke-width="4.2" stroke-linecap="round" d="M190.7 578.3h0M194.4 594.1h0M198.1 607.9h0M200.0 607.9h0M204.6 617.2h0M208.3 621.8h0M208.9 623.4h0M209.5 624.9h0M210.2 626.4h0M210.6 628.8h0M211.1 631.1h0M212.0 629.2h0M210.6 631.1h0M209.2 632.9h0M211.1 632.5h0M212.9 632.0h0M217.6 635.7h0M218.5 637.5h0M219.4 639.4h0M220.0 640.9h0M220.6 642.5h0M221.3 644.0h0M222.6 642.6h0M224.0 641.2h0M225.0 647.7h0M235.1 653.3h0M236.5 653.7h0M237.9 654.2h0M238.4 656.5h0M238.8 658.8h0M240.4 659.4h0M241.9 660.1h0M243.5 660.7h0M246.2 666.2h0M247.2 664.4h0M248.1 662.5h0M249.0 663.4h0M249.9 664.4h0M250.9 665.8h0M251.8 667.2h0M257.3 670.9h0M258.7 671.3h0M260.1 671.8h0M261.5 671.3h0M262.9 670.9h0M264.3 671.8h0M265.7 672.7h0M267.1 671.8h0M268.4 670.9h0M269.8 671.3h0M271.2 671.8h0M272.2 677.3h0M289.7 680.1h0M290.7 678.7h0M291.6 677.3h0M293.0 678.3h0M294.4 679.2h0M295.3 677.8h0M296.2 676.4h0M297.6 678.3h0M299.0 680.1h0M299.9 678.7h0M300.8 677.3h0M302.2 679.2h0M303.6 681.0h0M304.2 682.6h0M304.8 684.1h0M305.5 685.7h0M311.9 686.6h0M313.3 687.5h0M314.7 688.4h0M316.1 689.4h0M317.5 690.3h0M318.9 690.7h0M320.3 691.2h0M321.7 690.3h0M323.0 689.4h0M324.4 688.9h0M325.8 688.4h0M326.7 690.3h0M327.7 692.1h0M329.1 693.1h0M330.4 694.0h0M337.8 688.4h0M338.3 690.7h0M338.8 693.1h0M339.7 691.2h0M340.6 689.4h0M342.0 688.0h0M343.4 686.6h0M344.3 688.0h0M345.2 689.4h0M346.2 691.2h0M347.1 693.1h0M348.0 691.5h0M348.9 690.0h0M349.9 688.4h0M350.3 686.1h0M350.8 683.8h0M351.4 685.3h0M352.0 686.9h0M352.6 688.4h0M354.0 688.0h0M355.4 687.5h0M357.3 688.4h0M365.6 694.0h0M366.5 692.4h0M367.5 690.9h0M368.4 689.4h0M370.2 690.3h0M372.1 691.2h0M373.5 690.7h0M374.9 690.3h0M376.7 690.7h0M378.6 691.2h0M378.6 697.7h0M381.3 691.2h0M382.7 691.7h0M384.1 692.1h0M386.0 691.7h0M387.8 691.2h0M389.2 691.7h0M390.6 692.1h0M392.0 692.6h0M393.4 693.1h0M395.2 694.0h0M397.1 692.6h0M398.9 691.2h0M399.8 690.3h0M400.8 689.4h0M402.1 688.4h0M403.5 687.5h0M404.9 688.9h0M406.3 690.3h0M407.7 691.7h0M409.1 693.1h0M410.9 694.0h0M412.8 694.9h0M414.2 695.4h0M415.6 695.8h0M417.4 696.8h0M419.3 697.7h0M419.9 696.1h0M420.5 694.6h0M421.1 693.1h0M422.5 692.6h0M423.9 692.1h0M198.8 607.5h0M209.0 620.7h0M207.9 623.5h0M208.6 627.2h0M211.7 627.8h0M209.9 630.2h0M211.8 630.6h0M212.0 630.6h0M220.1 636.7h0M220.5 639.6h0M224.7 649.2h0M236.2 654.1h0M239.5 657.2h0M239.7 658.1h0M241.2 658.2h0M241.9 658.6h0M241.7 660.2h0M246.9 667.7h0M248.4 665.0h0M249.5 662.3h0M251.2 664.4h0M251.6 668.8h0M257.9 669.0h0M259.4 670.1h0M263.8 670.2h0M266.7 672.9h0M265.5 670.6h0M269.9 671.3h0M289.3 678.5h0M291.8 678.3h0M292.6 676.6h0M292.7 680.1h0M292.9 679.8h0M296.9 677.3h0M294.7 676.5h0M298.3 678.6h0M300.8 678.8h0M301.6 677.4h0M302.1 681.4h0M304.4 680.9h0M303.9 683.6h0M306.4 686.3h0M311.2 687.3h0M316.5 689.0h0M316.8 690.7h0M320.2 690.0h0M320.7 689.8h0M327.1 687.9h0M327.0 693.5h0M330.8 693.3h0M330.9 695.6h0M338.5 689.6h0M337.0 692.4h0M340.1 688.1h0M343.4 688.7h0M344.2 688.6h0M348.7 684.9h0M353.2 688.5h0M352.6 687.4h0M356.5 687.7h0M364.5 693.7h0M369.8 690.0h0M375.2 689.1h0M377.2 692.5h0M379.7 692.4h0M380.4 689.7h0M381.6 690.9h0M383.6 690.6h0M389.7 690.6h0M391.9 691.5h0M395.7 693.3h0M402.2 690.1h0M405.0 686.6h0M404.6 691.0h0M406.6 693.3h0M416.7 696.9h0M416.4 697.1h0M420.0 696.6h0M420.6 697.6h0M421.3 693.4h0M422.7 691.3h0M420.9 692.6h0M420.9 694.9h0M420.9 697.2h0M423.7 691.6h0M425.1 691.2h0M426.5 690.7h0M427.9 692.1h0M429.3 693.5h0M430.6 692.6h0M432.0 691.6h0M433.4 691.6h0M434.8 691.6h0M436.2 692.1h0M437.6 692.6h0M439.0 693.0h0M440.4 693.5h0M441.3 692.6h0M442.2 691.6h0M443.6 690.2h0M445.0 688.9h0M446.4 688.4h0M447.8 687.9h0M449.3 687.0h0M450.8 686.1h0M452.4 685.2h0M453.8 684.7h0M455.2 684.2h0M457.0 683.3h0M458.4 682.4h0M459.8 681.5h0M461.2 681.0h0M462.6 680.5h0M473.7 682.4h0M477.4 689.8h0M478.3 691.6h0M479.2 693.5h0M479.8 695.0h0M480.4 696.6h0M481.1 698.1h0M483.8 692.6h0M485.7 691.6h0M487.5 690.7h0M488.9 691.6h0M490.3 692.6h0M492.2 693.5h0M494.0 694.4h0M495.4 694.9h0M496.8 695.3h0M498.2 694.4h0M499.6 693.5h0M501.0 693.0h0M502.3 692.6h0M504.2 692.1h0M506.0 691.6h0M522.7 690.7h0M524.6 683.3h0M525.5 684.7h0M526.4 686.1h0M527.8 687.5h0M529.2 688.9h0M531.0 689.8h0M532.0 691.2h0M532.9 692.6h0M533.8 693.9h0M534.7 695.3h0M535.7 696.7h0M536.6 698.1h0M538.0 698.6h0M539.4 699.0h0M544.0 691.6h0M545.4 690.2h0M546.8 688.9h0M548.1 687.5h0M549.5 686.1h0M550.9 687.0h0M552.3 687.9h0M553.7 688.4h0M555.1 688.9h0M556.5 688.9h0M557.9 688.9h0M559.2 687.9h0M560.6 687.0h0M562.0 686.1h0M563.4 685.2h0M564.3 686.5h0M565.3 687.9h0M573.6 687.9h0M575.0 689.3h0M576.4 690.7h0M584.7 686.1h0M585.3 684.5h0M585.9 683.0h0M586.5 681.5h0M587.5 680.1h0M588.4 678.7h0M589.8 677.8h0M591.2 676.8h0M593.0 677.8h0M594.9 679.1h0M596.7 680.5h0M604.1 690.7h0M606.4 690.2h0M608.7 689.8h0M609.2 691.2h0M609.7 692.6h0M613.4 687.0h0M614.8 687.5h0M616.2 687.9h0M617.5 687.9h0M618.9 687.9h0M623.6 698.1h0M624.9 699.5h0M626.3 700.9h0M628.2 701.8h0M629.1 700.0h0M630.0 698.1h0M631.0 699.7h0M631.9 701.2h0M632.8 702.7h0M634.2 704.1h0M635.6 705.5h0M637.0 705.1h0M638.4 704.6h0M639.7 704.1h0M641.1 703.7h0M642.1 705.2h0M643.0 706.7h0M643.9 708.3h0M644.8 709.7h0M645.8 711.1h0M646.7 710.1h0M647.6 709.2h0M649.5 709.2h0M651.3 709.2h0M652.7 710.1h0M654.1 711.1h0M655.5 711.5h0M656.9 712.0h0M661.5 720.3h0M663.3 714.8h0M665.2 714.3h0M667.0 713.8h0M668.2 713.4h0M669.4 712.9h0M426.8 691.3h0M429.9 694.1h0M433.9 689.9h0M437.2 691.7h0M441.0 692.5h0M441.1 693.8h0M442.6 690.3h0M445.5 687.6h0M447.3 689.1h0M451.1 685.8h0M452.5 684.1h0M457.3 685.0h0M480.3 694.0h0M479.4 697.3h0M484.2 692.0h0M489.0 692.8h0M495.6 693.9h0M495.6 695.6h0M500.4 695.3h0M502.5 691.4h0M505.2 690.1h0M522.4 689.2h0M523.9 684.6h0M524.0 683.8h0M529.1 687.5h0M531.2 690.9h0M533.5 692.1h0M535.6 693.8h0M534.3 695.4h0M537.8 697.5h0M541.2 699.4h0M544.5 688.6h0M546.5 690.3h0M548.5 686.5h0M548.9 687.0h0M551.1 687.8h0M557.7 688.9h0M559.2 686.6h0M561.0 685.2h0M564.2 685.9h0M564.3 684.9h0M564.4 689.1h0M575.0 687.3h0M577.0 689.1h0M583.7 687.2h0M586.4 683.5h0M588.3 681.7h0M586.7 678.6h0M592.4 676.1h0M593.4 676.4h0M594.6 677.2h0M603.2 691.5h0M606.1 691.4h0M609.1 691.4h0M607.8 691.9h0M609.9 693.7h0M613.3 688.7h0M617.5 688.7h0M618.3 687.0h0M624.7 696.9h0M625.3 700.7h0M626.8 702.4h0M629.6 701.1h0M631.4 697.9h0M632.3 699.7h0M632.4 702.5h0M636.4 704.4h0M636.1 703.6h0M639.6 703.1h0M640.7 702.6h0M643.0 703.8h0M642.1 707.3h0M644.2 708.7h0M647.0 711.2h0M648.1 708.0h0M649.3 710.6h0M650.7 710.7h0M651.5 710.7h0M653.8 712.4h0M656.8 713.7h0M662.6 713.4h0M664.9 713.1h0M668.5 714.0h0M668.9 711.7h0M670.5 713.0h0M665.0 714.4h0M666.4 713.9h0M667.8 713.5h0M669.2 712.6h0M670.6 711.6h0M671.5 712.6h0M672.4 713.5h0M677.0 720.0h0M678.4 721.8h0M679.8 723.7h0M680.7 724.6h0M681.7 725.5h0M682.3 724.0h0M682.9 722.4h0M683.5 720.9h0M684.9 720.0h0M686.3 719.0h0M687.2 718.1h0M688.1 717.2h0M689.5 715.3h0M690.9 713.5h0M692.8 712.6h0M694.1 713.5h0M695.5 714.4h0M697.4 713.9h0M699.2 713.5h0M703.9 705.2h0M705.2 704.7h0M706.6 704.2h0M707.6 703.3h0M708.5 702.4h0M714.0 698.7h0M715.9 697.8h0M717.3 698.7h0M718.7 699.6h0M719.6 698.2h0M720.5 696.8h0M721.4 698.2h0M722.4 699.6h0M723.0 701.1h0M723.6 702.7h0M724.2 704.2h0M725.6 704.2h0M727.0 704.2h0M728.4 703.3h0M729.8 702.4h0M730.7 703.8h0M731.6 705.2h0M732.5 703.8h0M733.5 702.4h0M734.1 703.9h0M734.7 705.5h0M735.3 707.0h0M737.2 708.4h0M739.0 709.8h0M739.9 710.7h0M740.9 711.6h0M741.8 713.0h0M742.7 714.4h0M743.6 716.3h0M744.6 718.1h0M745.5 716.7h0M746.4 715.3h0M748.3 714.4h0M749.2 713.5h0M750.1 712.6h0M752.0 711.6h0M753.8 712.6h0M756.6 726.4h0M757.5 711.6h0M758.4 710.7h0M759.4 709.8h0M758.4 750.5h0M766.8 711.6h0M767.7 713.5h0M768.6 715.3h0M769.2 716.9h0M769.9 718.4h0M770.5 720.0h0M771.4 720.9h0M772.3 721.8h0M774.2 716.3h0M775.6 718.1h0M777.0 720.0h0M778.3 719.5h0M779.7 719.0h0M781.1 718.6h0M782.5 718.1h0M783.9 718.1h0M785.3 718.1h0M786.7 718.6h0M788.1 719.0h0M792.7 713.5h0M794.1 712.6h0M795.5 711.6h0M796.4 713.5h0M797.3 715.3h0M798.2 716.3h0M799.2 717.2h0M800.5 717.6h0M801.9 718.1h0M802.6 719.7h0M803.2 721.2h0M803.8 722.7h0M805.2 724.6h0M806.6 726.4h0M807.9 727.8h0M809.3 729.2h0M810.7 730.1h0M812.1 731.1h0M813.5 730.6h0M814.9 730.1h0M816.7 730.1h0M818.6 730.1h0M820.0 728.3h0M821.4 726.4h0M822.8 725.1h0M824.1 723.7h0M826.0 722.7h0M826.9 721.4h0M827.8 720.0h0M829.7 725.5h0M831.1 726.4h0M832.5 727.4h0M833.4 728.3h0M834.3 729.2h0M835.2 727.4h0M836.2 725.5h0M837.6 724.6h0M838.9 723.7h0M843.6 736.6h0M844.2 738.2h0M844.8 739.7h0M845.4 741.2h0M846.8 742.6h0M848.2 744.0h0M849.6 743.1h0M851.0 742.2h0M851.9 740.8h0M852.8 739.4h0M854.2 737.5h0M855.6 735.7h0M857.5 734.3h0M859.3 732.9h0M860.7 732.9h0M862.1 732.9h0M863.5 732.9h0M864.9 732.9h0M866.7 733.4h0M868.6 733.8h0M869.9 734.3h0M871.3 734.8h0M872.7 735.2h0M874.1 735.7h0M875.5 737.1h0M876.9 738.5h0M878.3 737.1h0M879.7 735.7h0M881.0 734.8h0M882.4 733.8h0M884.3 732.5h0M886.1 731.1h0M888.0 730.6h0M889.8 730.1h0M894.5 734.8h0M896.3 734.3h0M898.2 733.8h0M899.5 732.9h0M900.9 732.0h0M902.8 731.1h0M904.6 730.1h0M906.0 730.6h0M907.4 731.1h0M908.8 730.1h0M910.2 729.2h0M912.0 727.8h0M913.9 726.4h0M666.3 715.4h0M665.5 715.4h0M669.2 710.5h0M670.2 713.7h0M678.1 719.4h0M676.7 720.8h0M680.4 722.7h0M684.2 723.5h0M682.4 719.7h0M684.9 721.2h0M685.4 720.1h0M686.8 716.3h0M689.9 714.6h0M693.6 711.8h0M693.3 712.2h0M695.7 713.7h0M700.3 713.9h0M703.7 706.8h0M706.2 703.5h0M706.8 702.6h0M708.9 704.2h0M714.4 697.2h0M718.2 699.3h0M720.0 697.1h0M723.8 702.3h0M722.6 703.3h0M725.1 705.6h0M726.1 705.3h0M727.5 702.2h0M731.3 703.1h0M731.7 702.9h0M732.6 706.9h0M734.6 702.9h0M735.2 708.3h0M740.3 709.8h0M740.3 709.5h0M740.9 713.4h0M742.8 711.4h0M741.5 714.6h0M744.4 715.5h0M745.3 717.8h0M751.3 711.9h0M752.7 712.4h0M755.6 712.3h0M758.8 708.6h0M765.6 710.8h0M769.2 712.9h0M768.7 719.1h0M769.8 719.8h0M776.9 718.6h0M780.0 720.7h0M780.3 717.7h0M785.2 718.4h0M793.1 714.6h0M794.5 711.4h0M796.9 712.4h0M795.2 713.3h0M798.7 714.3h0M799.1 718.4h0M802.9 717.5h0M801.6 721.1h0M802.4 723.2h0M806.7 725.1h0M809.8 730.5h0M811.8 732.9h0M816.6 729.4h0M816.0 731.8h0M820.8 729.2h0M820.1 727.8h0M823.6 725.9h0M824.5 722.3h0M826.4 723.2h0M828.2 718.4h0M830.8 728.3h0M832.2 728.3h0M846.4 743.0h0M847.2 744.9h0M848.8 744.1h0M849.8 743.0h0M852.9 740.4h0M854.2 739.2h0M852.7 737.7h0M853.8 736.3h0M858.6 732.7h0M862.4 734.3h0M861.8 732.8h0M865.5 733.7h0M868.2 733.1h0M870.4 734.5h0M870.3 733.0h0M873.1 735.1h0M873.9 737.3h0M873.8 737.3h0M883.3 733.1h0M885.2 731.9h0M887.3 729.3h0M890.0 728.9h0M896.0 734.7h0M897.4 733.1h0M896.6 734.0h0M905.1 729.2h0M908.5 730.1h0M908.1 728.7h0M909.9 728.2h0M911.2 728.6h0M912.3 727.0h0M910.2 731.0h0M911.4 727.8h0M913.1 726.3h0M914.6 727.9h0M915.9 727.1h0M917.2 726.2h0M918.6 725.3h0M918.9 722.1h0M920.4 722.1h0M921.0 719.2h0M922.2 717.4h0M922.7 719.5h0M923.5 721.4h0M925.3 722.9h0M926.9 724.8h0M928.4 725.3h0M929.4 724.8h0M931.2 725.4h0M932.1 724.9h0M933.6 725.4h0M934.9 724.5h0M936.6 724.3h0M938.5 725.6h0M940.3 725.2h0M941.5 724.8h0M942.8 725.7h0M944.4 723.1h0M945.5 725.1h0M947.4 724.0h0M948.5 724.1h0M950.1 722.2h0M951.3 720.6h0M952.5 721.1h0M953.6 720.0h0M954.0 718.7h0M955.2 720.4h0M955.7 722.1h0M956.4 723.2h0M958.0 724.9h0M959.2 726.3h0M960.5 727.5h0M961.5 728.8h0M963.0 730.7h0M964.5 730.2h0M965.6 733.0h0M967.6 734.8h0M968.4 735.2h0M969.3 736.9h0M970.5 737.6h0M972.6 735.5h0M973.6 735.3h0M975.2 737.6h0M976.7 738.3h0M977.9 736.1h0M979.0 734.5h0M980.4 731.6h0M982.4 730.5h0M983.5 730.7h0M984.6 728.5h0M986.2 728.5h0M987.8 728.7h0M989.2 730.6h0M990.4 730.4h0M992.0 730.9h0M993.5 733.8h0M994.2 734.8h0M995.5 735.6h0M996.7 737.0h0M999.0 738.1h0M999.9 739.0h0M1001.3 740.1h0M1003.3 739.9h0M1004.7 738.7h0M1006.1 739.0h0M1007.4 737.1h0M1008.5 736.5h0M1010.3 734.3h0M1011.1 731.3h0M1011.7 729.8h0M1012.5 728.8h0M1014.8 729.1h0M1016.0 728.2h0M1017.2 729.4h0M1019.3 731.0h0M1020.7 731.6h0M1022.5 731.3h0M1023.5 734.2h0M1024.5 735.3h0M1026.1 735.0h0M1027.3 738.0h0M1028.4 737.6h0M1029.8 738.9h0M1031.1 739.9h0M1031.8 741.7h0M1033.7 742.6h0M1036.0 745.1h0M1036.9 743.6h0M1038.9 741.1h0M1039.7 740.5h0M1041.7 741.0h0M1043.0 740.8h0M1044.3 738.4h0M1045.3 738.3h0M1046.6 739.2h0M1048.4 738.2h0M1049.7 736.6h0M1051.7 734.1h0M1053.1 734.8h0M1054.4 734.0h0M1055.5 732.8h0M1057.3 733.0h0M1058.4 734.5h0M1060.1 733.1h0M1061.4 733.9h0M1063.0 735.6h0M1063.5 733.9h0M1064.1 731.0h0M1064.4 729.1h0M1066.1 730.2h0M1067.4 727.4h0M1068.3 726.0h0M1070.1 723.7h0M1071.9 724.1h0M1073.0 725.7h0M1074.2 724.1h0M1075.7 726.3h0M1077.2 727.6h0M1078.4 728.9h0M1080.1 727.3h0M1081.3 725.3h0M1082.2 725.6h0M1084.0 726.4h0M1085.0 726.7h0M1087.0 728.6h0M1088.1 731.9h0M1089.6 733.8h0M1090.9 730.1h0M1092.6 730.0h0M1093.5 731.7h0M1094.5 732.2h0M1096.1 734.0h0M1097.1 734.5h0M1099.1 735.1h0M1100.4 736.0h0M1101.2 734.1h0M1102.5 736.1h0M1104.4 735.9h0M1105.9 737.0h0M1106.8 739.2h0M1108.6 738.5h0M1109.8 736.6h0M1111.3 738.9h0M1112.5 739.5h0M1113.9 739.7h0M1115.3 740.2h0M1117.1 738.7h0M1118.4 740.4h0M1119.7 739.0h0M1121.3 735.7h0M1122.4 738.2h0M1123.5 737.8h0M1124.7 739.4h0M1126.6 740.0h0M1128.3 739.9h0M1130.3 741.3h0M1131.6 739.7h0M1132.8 740.0h0M1134.0 737.4h0M1136.2 737.3h0M1137.4 735.8h0M1138.4 733.4h0M1139.5 736.5h0M1140.6 737.9h0M1141.1 739.1h0M1142.4 739.0h0M1144.4 738.9h0M1145.7 739.2h0M1146.6 740.3h0M1148.5 742.5h0M1149.5 741.6h0M1151.2 742.6h0M1152.8 745.0h0M1154.4 741.9h0M1156.0 740.4h0M1157.1 739.2h0M1159.1 738.1h0M1150.2 740.6h0M1150.8 743.8h0M1152.2 745.2h0M1153.3 743.1h0M1154.7 743.8h0M1156.3 742.0h0M1157.6 740.8h0M1158.8 741.0h0M1160.8 740.2h0M1162.4 737.9h0M1164.3 739.2h0M1165.2 737.4h0M1166.7 737.4h0M1169.5 737.6h0M1171.7 738.1h0M1174.0 737.8h0M1175.7 740.0h0M1177.1 738.5h0M1177.7 737.0h0M1179.4 736.1h0M1181.7 732.7h0M1183.7 731.8h0M1184.8 733.1h0M1186.3 732.9h0M1187.8 733.3h0M1189.1 734.7h0M1189.6 734.5h0M1190.8 736.3h0M1192.3 737.4h0M1193.5 740.5h0M1195.7 740.1h0M1197.7 741.8h0M1200.2 741.0h0M1200.8 739.5h0M1202.2 738.6h0M1203.3 737.6h0M1204.2 737.2h0M1205.9 737.0h0M1207.4 739.4h0M1209.0 739.0h0M1210.1 739.8h0M1211.6 741.6h0M1213.3 741.6h0M1215.0 739.7h0M1216.0 742.7h0M1218.1 741.9h0M1219.2 743.2h0M1220.0 742.4h0M1221.4 740.9h0M1223.0 741.0h0M1223.7 741.4h0M1225.5 738.1h0M1227.7 738.5h0M1229.1 740.8h0M1230.2 740.9h0M1232.0 739.4h0M1234.1 738.6h0M1235.6 739.4h0M1236.9 741.2h0M1239.1 740.6h0M1240.3 742.9h0M1241.3 742.5h0M1243.4 744.4h0M1245.3 743.0h0M1246.7 742.6h0M1248.1 744.3h0M1249.6 743.7h0M1251.1 741.6h0M1252.5 743.2h0M1254.1 741.4h0M1255.5 742.1h0M1257.0 740.6h0M1258.4 740.3h0M1260.0 739.3h0M1261.5 739.9h0M1263.7 738.7h0M1265.1 739.5h0M1266.3 739.7h0M1267.9 740.4h0M1268.9 743.1h0M1270.2 743.4h0M1271.6 744.4h0M1273.7 745.2h0M1274.9 746.1h0M1276.3 747.2h0M1276.9 746.9h0M1278.6 747.6h0M1279.4 748.4h0M1280.9 748.7h0M1282.7 750.9h0M1283.9 748.4h0M1285.3 749.2h0M1287.5 747.8h0M1289.0 749.1h0M1290.2 750.1h0M1291.5 750.1h0M1292.9 751.1h0"/>
<rect x="128.2" y="1.2" width="1221.4" height="189.5" fill="none" stroke="#000" stroke-width="1.45"/>
<rect x="128.2" y="190.65" width="1221.4" height="189.5" fill="none" stroke="#000" stroke-width="1.45"/>
<rect x="128.2" y="380.1" width="1221.4" height="189.7" fill="none" stroke="#000" stroke-width="1.45"/>
<rect x="128.2" y="569.8" width="1221.4" height="189.9" fill="none" stroke="#000" stroke-width="1.45"/>
<path d="M122.99999999999999 24.4H128.2M122.99999999999999 131.5H128.2M122.99999999999999 217.9H128.2M122.99999999999999 274.7H128.2M122.99999999999999 331.0H128.2M122.99999999999999 411.0H128.2M122.99999999999999 491.5H128.2M122.99999999999999 636.4H128.2M122.99999999999999 758.2H128.2M148.8 759.65V764.85M414.5 759.65V764.85M680.5 759.65V764.85M946.3 759.65V764.85M1212.4 759.65V764.85" stroke="#000" stroke-width="1.1"/>
<rect x="180.7" y="11.7" width="162.8" height="42.7" fill="#fff" stroke="#000" stroke-width="1.3"/>
<rect x="180.5" y="326.5" width="206.4" height="43.1" fill="#fff" stroke="#000" stroke-width="1.3"/>
<rect x="180.5" y="516.1" width="220.8" height="43.1" fill="#fff" stroke="#000" stroke-width="1.3"/>
<rect x="1009.6" y="580.4" width="287.9" height="43.4" fill="#fff" stroke="#000" stroke-width="1.3"/>
<defs><filter id="gs" x="0" y="0" width="1351" height="838" filterUnits="userSpaceOnUse"><feOffset dx="0" dy="0"/></filter></defs>
<g font-family="Liberation Sans, sans-serif" fill="#000" stroke="#000" stroke-width="0.45" filter="url(#gs)">
<text transform="translate(49.29,35.25) scale(1.0332,1)" font-size="30.08">4000</text>
<text transform="translate(49.04,142.35) scale(1.0369,1)" font-size="30.08">2000</text>
<text transform="translate(48.20,228.75) scale(1.0497,1)" font-size="30.08">1500</text>
<text transform="translate(48.20,285.55) scale(1.0497,1)" font-size="30.08">1000</text>
<text transform="translate(66.86,341.85) scale(1.0271,1)" font-size="30.08">500</text>
<text transform="translate(49.29,421.85) scale(1.0332,1)" font-size="30.08">4000</text>
<text transform="translate(49.04,502.35) scale(1.0369,1)" font-size="30.08">2000</text>
<text transform="translate(101.36,647.55) scale(1.0061,1)" font-size="30.52">2</text>
<text transform="translate(101.76,769.05) scale(0.9735,1)" font-size="30.08">0</text>
<text transform="translate(105.30,790.30) scale(1.0450,1)" font-size="29.94">60180</text>
<text transform="translate(371.00,790.30) scale(1.0450,1)" font-size="29.94">60190</text>
<text transform="translate(637.00,790.30) scale(1.0450,1)" font-size="29.94">60200</text>
<text transform="translate(902.80,790.30) scale(1.0450,1)" font-size="29.94">60210</text>
<text transform="translate(1168.90,790.30) scale(1.0450,1)" font-size="29.94">60220</text>
<text transform="translate(188.88,40.60) scale(1.0164,1)" font-size="29.07">LE 2-6 keV</text>
<text transform="translate(188.85,355.50) scale(1.0393,1)" font-size="28.78">ME 10-20 keV</text>
<text transform="translate(188.84,545.30) scale(1.0369,1)" font-size="28.92">HE 25-100 keV</text>
<text transform="translate(1017.16,610.30) scale(1.0156,1)" font-size="30.23">25-100 keV/2-6 keV</text>
<text transform="translate(702.67,830.50) scale(0.8738,1)" font-size="40.84">MJD</text>
<g transform="translate(34.8,477.4) rotate(-90)">
<text transform="translate(-2.18,0.00) scale(1.0379,1)" font-size="41.20">Count Rate (cts s</text>
<text transform="translate(330.29,-15.00) scale(1.1700,1)" font-size="28.05">−1</text>
<text transform="translate(372.51,-3.30) scale(0.8916,1)" font-size="36.40">)</text>
</g>
<g transform="translate(88.1,688.9) rotate(-90)">
<text transform="translate(-3.14,0.00) scale(0.9351,1)" font-size="40.99">HR</text>
</g>
</g>
</svg>
</body></html>
